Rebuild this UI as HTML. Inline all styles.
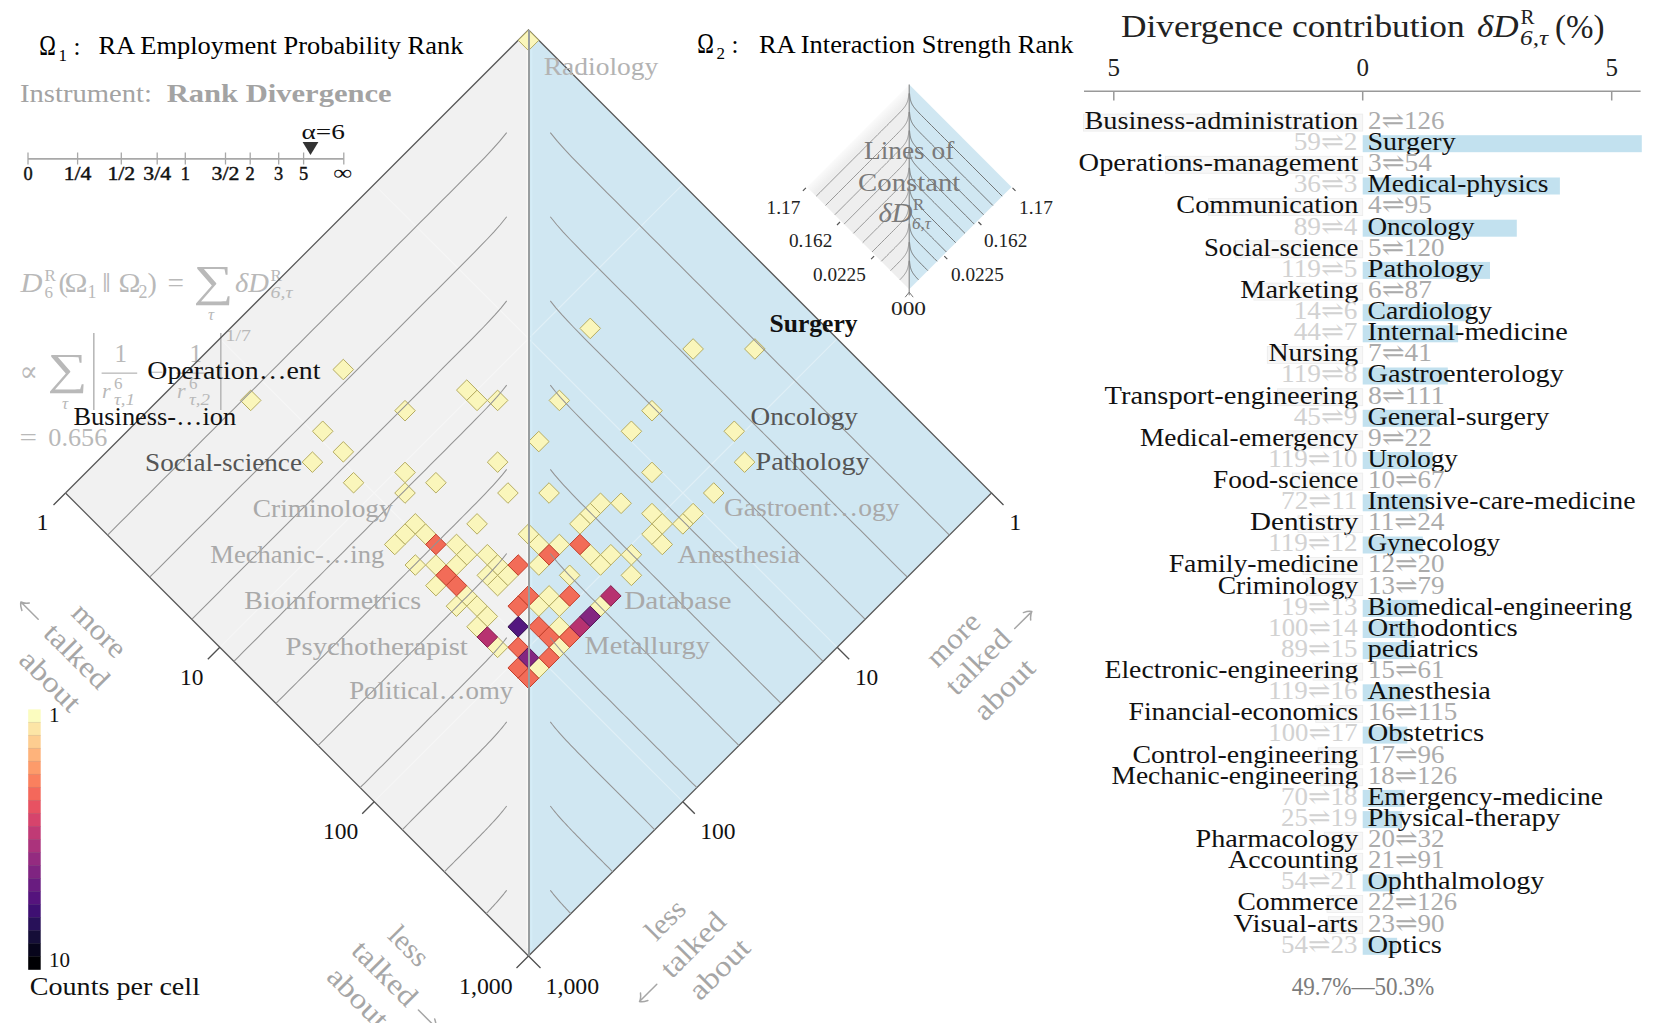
<!DOCTYPE html>
<html><head><meta charset="utf-8"><title>Allotaxonograph</title>
<style>html,body{margin:0;padding:0;background:#fff;overflow:hidden}svg{display:block}</style>
</head><body>
<svg width="1657" height="1023" viewBox="0 0 1657 1023" font-family='"Liberation Serif","DejaVu Serif",serif'>
<rect width="1657" height="1023" fill="#fff"/>
<polygon points="528.5,30.0 65.5,493.0 528.5,956.0" fill="#f1f1f1"/>
<polygon points="528.5,30.0 991.5,493.0 528.5,956.0" fill="#d0e7f2"/>
<path d="M682.8,184.3 L219.8,647.3 M374.2,184.3 L837.2,647.3 M837.2,338.7 L374.2,801.7 M219.8,338.7 L682.8,801.7" stroke="#ffffff" stroke-opacity="0.35" stroke-width="1.2" fill="none"/>
<g fill="#b9b9b9">
<text x="20.5" y="291.5" font-size="28" fill="#b9b9b9" font-style="italic" textLength="22.0" lengthAdjust="spacingAndGlyphs" >D</text>
<text x="44.5" y="280.5" font-size="17" fill="#b9b9b9" >R</text>
<text x="44.5" y="297.5" font-size="17" fill="#b9b9b9" >6</text>
<text x="58.5" y="291.5" font-size="28" fill="#b9b9b9" >(</text>
<text x="64.5" y="291.5" font-size="28" fill="#b9b9b9" textLength="23.0" lengthAdjust="spacingAndGlyphs" >Ω</text>
<text x="87.5" y="297.5" font-size="18" fill="#b9b9b9" >1</text>
<text x="102.0" y="291.5" font-size="28" fill="#b9b9b9" textLength="9.0" lengthAdjust="spacingAndGlyphs" >‖</text>
<text x="118.5" y="291.5" font-size="28" fill="#b9b9b9" textLength="22.0" lengthAdjust="spacingAndGlyphs" >Ω</text>
<text x="138.5" y="297.5" font-size="18" fill="#b9b9b9" >2</text>
<text x="147.5" y="291.5" font-size="28" fill="#b9b9b9" >)</text>
<text x="167.5" y="291.5" font-size="28" fill="#b9b9b9" textLength="16.5" lengthAdjust="spacingAndGlyphs" >=</text>
<text x="193.5" y="296.0" font-size="44" fill="#b9b9b9" textLength="40.0" lengthAdjust="spacingAndGlyphs" >∑</text>
<text x="208.0" y="320.0" font-size="17" fill="#b9b9b9" font-style="italic" >τ</text>
<text x="235.0" y="291.5" font-size="28" fill="#b9b9b9" font-style="italic" textLength="34.0" lengthAdjust="spacingAndGlyphs" >δD</text>
<text x="270.5" y="280.5" font-size="17" fill="#b9b9b9" >R</text>
<text x="270.5" y="297.5" font-size="17" fill="#b9b9b9" font-style="italic" textLength="22.0" lengthAdjust="spacingAndGlyphs" >6,τ</text>
<text x="19.5" y="381.0" font-size="28" fill="#b9b9b9" textLength="18.5" lengthAdjust="spacingAndGlyphs" >∝</text>
<text x="47.5" y="384.0" font-size="44" fill="#b9b9b9" textLength="40.0" lengthAdjust="spacingAndGlyphs" >∑</text>
<text x="62.0" y="409.0" font-size="17" fill="#b9b9b9" font-style="italic" >τ</text>
<rect x="93" y="333" width="1.6" height="77" fill="#b9b9b9"/>
<text x="114.5" y="362.0" font-size="25" fill="#b9b9b9" >1</text>
<rect x="101.6" y="372.5" width="35.6" height="1.3" fill="#b9b9b9"/>
<text x="102.0" y="397.5" font-size="22" fill="#b9b9b9" font-style="italic" >r</text>
<text x="114.0" y="388.5" font-size="17" fill="#b9b9b9" >6</text>
<text x="114.0" y="404.5" font-size="16" fill="#b9b9b9" font-style="italic" textLength="21.0" lengthAdjust="spacingAndGlyphs" >τ,1</text>
<text x="150.0" y="380.0" font-size="24" fill="#b9b9b9" >−</text>
<text x="189.5" y="362.0" font-size="25" fill="#b9b9b9" >1</text>
<rect x="176.6" y="372.5" width="35" height="1.3" fill="#b9b9b9"/>
<text x="177.0" y="397.5" font-size="22" fill="#b9b9b9" font-style="italic" >r</text>
<text x="189.0" y="388.5" font-size="17" fill="#b9b9b9" >6</text>
<text x="189.0" y="404.5" font-size="16" fill="#b9b9b9" font-style="italic" textLength="21.0" lengthAdjust="spacingAndGlyphs" >τ,2</text>
<rect x="220" y="333" width="1.6" height="77" fill="#b9b9b9"/>
<text x="225.5" y="340.5" font-size="17" fill="#b9b9b9" textLength="25.5" lengthAdjust="spacingAndGlyphs" >1/7</text>
<text x="19.5" y="446.0" font-size="26" fill="#b9b9b9" textLength="17.5" lengthAdjust="spacingAndGlyphs" >=</text>
<text x="48.3" y="446.0" font-size="26" fill="#b9b9b9" textLength="59.0" lengthAdjust="spacingAndGlyphs" >0.656</text>
</g>
<line x1="527.3" y1="38.0" x2="527.3" y2="948.0" stroke="#fbfaf7" stroke-width="1.6" stroke-opacity="0.8"/>
<line x1="531.5" y1="38.0" x2="531.5" y2="948.0" stroke="#d6edf7" stroke-width="1.8" stroke-opacity="0.8"/>
<polyline points="65.5,493.0 528.5,30.0 991.5,493.0 528.5,956.0 65.5,493.0" fill="none" stroke="#595959" stroke-width="1.25"/>
<polygon points="528.50,30.00 538.79,40.29 528.50,50.58 518.21,40.29" fill="#faf6bb" stroke="#b5ac62" stroke-width="1.0"/>
<polygon points="343.30,359.25 353.59,369.54 343.30,379.83 333.01,369.54" fill="#faf6bb" stroke="#b5ac62" stroke-width="1.0"/>
<polygon points="250.70,390.12 260.99,400.40 250.70,410.69 240.41,400.40" fill="#faf6bb" stroke="#b5ac62" stroke-width="1.0"/>
<polygon points="466.77,379.83 477.06,390.12 466.77,400.40 456.48,390.12" fill="#faf6bb" stroke="#b5ac62" stroke-width="1.0"/>
<polygon points="477.06,390.12 487.34,400.40 477.06,410.69 466.77,400.40" fill="#faf6bb" stroke="#b5ac62" stroke-width="1.0"/>
<polygon points="497.63,390.12 507.92,400.40 497.63,410.69 487.34,400.40" fill="#faf6bb" stroke="#b5ac62" stroke-width="1.0"/>
<polygon points="405.03,400.40 415.32,410.69 405.03,420.98 394.74,410.69" fill="#faf6bb" stroke="#b5ac62" stroke-width="1.0"/>
<polygon points="322.72,420.98 333.01,431.27 322.72,441.56 312.43,431.27" fill="#faf6bb" stroke="#b5ac62" stroke-width="1.0"/>
<polygon points="343.30,441.56 353.59,451.85 343.30,462.14 333.01,451.85" fill="#faf6bb" stroke="#b5ac62" stroke-width="1.0"/>
<polygon points="312.43,451.85 322.72,462.14 312.43,472.43 302.14,462.14" fill="#faf6bb" stroke="#b5ac62" stroke-width="1.0"/>
<polygon points="497.63,451.85 507.92,462.14 497.63,472.43 487.34,462.14" fill="#faf6bb" stroke="#b5ac62" stroke-width="1.0"/>
<polygon points="405.03,462.14 415.32,472.43 405.03,482.72 394.74,472.43" fill="#faf6bb" stroke="#b5ac62" stroke-width="1.0"/>
<polygon points="353.59,472.43 363.88,482.72 353.59,493.00 343.30,482.72" fill="#faf6bb" stroke="#b5ac62" stroke-width="1.0"/>
<polygon points="435.90,472.43 446.19,482.72 435.90,493.00 425.61,482.72" fill="#faf6bb" stroke="#b5ac62" stroke-width="1.0"/>
<polygon points="405.03,482.72 415.32,493.00 405.03,503.29 394.74,493.00" fill="#faf6bb" stroke="#b5ac62" stroke-width="1.0"/>
<polygon points="507.92,482.72 518.21,493.00 507.92,503.29 497.63,493.00" fill="#faf6bb" stroke="#b5ac62" stroke-width="1.0"/>
<polygon points="590.23,318.09 600.52,328.38 590.23,338.67 579.95,328.38" fill="#faf6bb" stroke="#b5ac62" stroke-width="1.0"/>
<polygon points="693.12,338.67 703.41,348.96 693.12,359.25 682.84,348.96" fill="#faf6bb" stroke="#b5ac62" stroke-width="1.0"/>
<polygon points="754.86,338.67 765.15,348.96 754.86,359.25 744.57,348.96" fill="#faf6bb" stroke="#b5ac62" stroke-width="1.0"/>
<polygon points="559.37,390.12 569.66,400.40 559.37,410.69 549.08,400.40" fill="#faf6bb" stroke="#b5ac62" stroke-width="1.0"/>
<polygon points="651.97,400.40 662.26,410.69 651.97,420.98 641.68,410.69" fill="#faf6bb" stroke="#b5ac62" stroke-width="1.0"/>
<polygon points="631.39,420.98 641.68,431.27 631.39,441.56 621.10,431.27" fill="#faf6bb" stroke="#b5ac62" stroke-width="1.0"/>
<polygon points="734.28,420.98 744.57,431.27 734.28,441.56 723.99,431.27" fill="#faf6bb" stroke="#b5ac62" stroke-width="1.0"/>
<polygon points="538.79,431.27 549.08,441.56 538.79,451.85 528.50,441.56" fill="#faf6bb" stroke="#b5ac62" stroke-width="1.0"/>
<polygon points="744.57,451.85 754.86,462.14 744.57,472.43 734.28,462.14" fill="#faf6bb" stroke="#b5ac62" stroke-width="1.0"/>
<polygon points="651.97,462.14 662.26,472.43 651.97,482.72 641.68,472.43" fill="#faf6bb" stroke="#b5ac62" stroke-width="1.0"/>
<polygon points="549.08,482.72 559.37,493.00 549.08,503.29 538.79,493.00" fill="#faf6bb" stroke="#b5ac62" stroke-width="1.0"/>
<polygon points="713.70,482.72 723.99,493.00 713.70,503.29 703.41,493.00" fill="#faf6bb" stroke="#b5ac62" stroke-width="1.0"/>
<polygon points="600.52,493.00 610.81,503.29 600.52,513.58 590.23,503.29" fill="#faf6bb" stroke="#b5ac62" stroke-width="1.0"/>
<polygon points="621.10,493.00 631.39,503.29 621.10,513.58 610.81,503.29" fill="#faf6bb" stroke="#b5ac62" stroke-width="1.0"/>
<polygon points="590.23,503.29 600.52,513.58 590.23,523.87 579.95,513.58" fill="#faf6bb" stroke="#b5ac62" stroke-width="1.0"/>
<polygon points="579.95,513.58 590.23,523.87 579.95,534.16 569.66,523.87" fill="#faf6bb" stroke="#b5ac62" stroke-width="1.0"/>
<polygon points="651.97,503.29 662.26,513.58 651.97,523.87 641.68,513.58" fill="#faf6bb" stroke="#b5ac62" stroke-width="1.0"/>
<polygon points="662.26,513.58 672.55,523.87 662.26,534.16 651.97,523.87" fill="#faf6bb" stroke="#b5ac62" stroke-width="1.0"/>
<polygon points="693.12,503.29 703.41,513.58 693.12,523.87 682.84,513.58" fill="#faf6bb" stroke="#b5ac62" stroke-width="1.0"/>
<polygon points="682.84,513.58 693.12,523.87 682.84,534.16 672.55,523.87" fill="#faf6bb" stroke="#b5ac62" stroke-width="1.0"/>
<polygon points="651.97,523.87 662.26,534.16 651.97,544.45 641.68,534.16" fill="#faf6bb" stroke="#b5ac62" stroke-width="1.0"/>
<polygon points="662.26,534.16 672.55,544.45 662.26,554.74 651.97,544.45" fill="#faf6bb" stroke="#b5ac62" stroke-width="1.0"/>
<polygon points="528.50,523.87 538.79,534.16 528.50,544.45 518.21,534.16" fill="#faf6bb" stroke="#b5ac62" stroke-width="1.0"/>
<polygon points="538.79,534.16 549.08,544.45 538.79,554.74 528.50,544.45" fill="#faf6bb" stroke="#b5ac62" stroke-width="1.0"/>
<polygon points="559.37,534.16 569.66,544.45 559.37,554.74 549.08,544.45" fill="#faf6bb" stroke="#b5ac62" stroke-width="1.0"/>
<polygon points="538.79,554.74 549.08,565.03 538.79,575.32 528.50,565.03" fill="#faf6bb" stroke="#b5ac62" stroke-width="1.0"/>
<polygon points="590.23,544.45 600.52,554.74 590.23,565.03 579.95,554.74" fill="#faf6bb" stroke="#b5ac62" stroke-width="1.0"/>
<polygon points="610.81,544.45 621.10,554.74 610.81,565.03 600.52,554.74" fill="#faf6bb" stroke="#b5ac62" stroke-width="1.0"/>
<polygon points="631.39,544.45 641.68,554.74 631.39,565.03 621.10,554.74" fill="#faf6bb" stroke="#b5ac62" stroke-width="1.0"/>
<polygon points="600.52,554.74 610.81,565.03 600.52,575.32 590.23,565.03" fill="#faf6bb" stroke="#b5ac62" stroke-width="1.0"/>
<polygon points="631.39,565.03 641.68,575.32 631.39,585.61 621.10,575.32" fill="#faf6bb" stroke="#b5ac62" stroke-width="1.0"/>
<polygon points="569.66,565.03 579.94,575.32 569.66,585.61 559.37,575.32" fill="#faf6bb" stroke="#b5ac62" stroke-width="1.0"/>
<polygon points="415.32,513.58 425.61,523.87 415.32,534.16 405.03,523.87" fill="#faf6bb" stroke="#b5ac62" stroke-width="1.0"/>
<polygon points="405.03,523.87 415.32,534.16 405.03,544.45 394.74,534.16" fill="#faf6bb" stroke="#b5ac62" stroke-width="1.0"/>
<polygon points="425.61,523.87 435.90,534.16 425.61,544.45 415.32,534.16" fill="#faf6bb" stroke="#b5ac62" stroke-width="1.0"/>
<polygon points="394.74,534.16 405.03,544.45 394.74,554.74 384.45,544.45" fill="#faf6bb" stroke="#b5ac62" stroke-width="1.0"/>
<polygon points="477.06,513.58 487.34,523.87 477.06,534.16 466.77,523.87" fill="#faf6bb" stroke="#b5ac62" stroke-width="1.0"/>
<polygon points="456.48,534.16 466.77,544.45 456.48,554.74 446.19,544.45" fill="#faf6bb" stroke="#b5ac62" stroke-width="1.0"/>
<polygon points="466.77,544.45 477.06,554.74 466.77,565.03 456.48,554.74" fill="#faf6bb" stroke="#b5ac62" stroke-width="1.0"/>
<polygon points="487.34,544.45 497.63,554.74 487.34,565.03 477.06,554.74" fill="#faf6bb" stroke="#b5ac62" stroke-width="1.0"/>
<polygon points="415.32,554.74 425.61,565.03 415.32,575.32 405.03,565.03" fill="#faf6bb" stroke="#b5ac62" stroke-width="1.0"/>
<polygon points="435.90,554.74 446.19,565.03 435.90,575.32 425.61,565.03" fill="#faf6bb" stroke="#b5ac62" stroke-width="1.0"/>
<polygon points="456.48,554.74 466.77,565.03 456.48,575.32 446.19,565.03" fill="#faf6bb" stroke="#b5ac62" stroke-width="1.0"/>
<polygon points="435.90,575.32 446.19,585.61 435.90,595.89 425.61,585.61" fill="#faf6bb" stroke="#b5ac62" stroke-width="1.0"/>
<polygon points="497.63,554.74 507.92,565.03 497.63,575.32 487.34,565.03" fill="#faf6bb" stroke="#b5ac62" stroke-width="1.0"/>
<polygon points="487.34,565.03 497.63,575.32 487.34,585.61 477.06,575.32" fill="#faf6bb" stroke="#b5ac62" stroke-width="1.0"/>
<polygon points="497.63,575.32 507.92,585.61 497.63,595.89 487.34,585.61" fill="#faf6bb" stroke="#b5ac62" stroke-width="1.0"/>
<polygon points="507.92,565.03 518.21,575.32 507.92,585.61 497.63,575.32" fill="#faf6bb" stroke="#b5ac62" stroke-width="1.0"/>
<polygon points="466.77,585.61 477.06,595.89 466.77,606.18 456.48,595.89" fill="#faf6bb" stroke="#b5ac62" stroke-width="1.0"/>
<polygon points="549.08,585.61 559.37,595.89 549.08,606.18 538.79,595.89" fill="#faf6bb" stroke="#b5ac62" stroke-width="1.0"/>
<polygon points="538.79,595.89 549.08,606.18 538.79,616.47 528.50,606.18" fill="#faf6bb" stroke="#b5ac62" stroke-width="1.0"/>
<polygon points="559.37,595.89 569.66,606.18 559.37,616.47 549.08,606.18" fill="#faf6bb" stroke="#b5ac62" stroke-width="1.0"/>
<polygon points="600.52,595.89 610.81,606.18 600.52,616.47 590.23,606.18" fill="#faf6bb" stroke="#b5ac62" stroke-width="1.0"/>
<polygon points="559.37,616.47 569.66,626.76 559.37,637.05 549.08,626.76" fill="#faf6bb" stroke="#b5ac62" stroke-width="1.0"/>
<polygon points="559.37,637.05 569.66,647.34 559.37,657.63 549.08,647.34" fill="#faf6bb" stroke="#b5ac62" stroke-width="1.0"/>
<polygon points="538.79,657.63 549.08,667.92 538.79,678.21 528.50,667.92" fill="#faf6bb" stroke="#b5ac62" stroke-width="1.0"/>
<polygon points="456.48,595.89 466.77,606.18 456.48,616.47 446.19,606.18" fill="#faf6bb" stroke="#b5ac62" stroke-width="1.0"/>
<polygon points="477.06,595.89 487.34,606.18 477.06,616.47 466.77,606.18" fill="#faf6bb" stroke="#b5ac62" stroke-width="1.0"/>
<polygon points="487.34,606.18 497.63,616.47 487.34,626.76 477.06,616.47" fill="#faf6bb" stroke="#b5ac62" stroke-width="1.0"/>
<polygon points="477.06,616.47 487.34,626.76 477.06,637.05 466.77,626.76" fill="#faf6bb" stroke="#b5ac62" stroke-width="1.0"/>
<polygon points="497.63,637.05 507.92,647.34 497.63,657.63 487.34,647.34" fill="#faf6bb" stroke="#b5ac62" stroke-width="1.0"/>
<polygon points="579.95,534.16 590.23,544.45 579.95,554.74 569.66,544.45" fill="#f26c58" stroke="#c23e2a" stroke-width="1.0"/>
<polygon points="549.08,544.45 559.37,554.74 549.08,565.03 538.79,554.74" fill="#f26c58" stroke="#c23e2a" stroke-width="1.0"/>
<polygon points="435.90,534.16 446.19,544.45 435.90,554.74 425.61,544.45" fill="#f26c58" stroke="#c23e2a" stroke-width="1.0"/>
<polygon points="446.19,565.03 456.48,575.32 446.19,585.61 435.90,575.32" fill="#f26c58" stroke="#c23e2a" stroke-width="1.0"/>
<polygon points="456.48,575.32 466.77,585.61 456.48,595.89 446.19,585.61" fill="#f26c58" stroke="#c23e2a" stroke-width="1.0"/>
<polygon points="518.21,554.74 528.50,565.03 518.21,575.32 507.92,565.03" fill="#f26c58" stroke="#c23e2a" stroke-width="1.0"/>
<polygon points="528.50,585.61 538.79,595.89 528.50,606.18 518.21,595.89" fill="#f26c58" stroke="#c23e2a" stroke-width="1.0"/>
<polygon points="518.21,595.89 528.50,606.18 518.21,616.47 507.92,606.18" fill="#f26c58" stroke="#c23e2a" stroke-width="1.0"/>
<polygon points="569.66,585.61 579.94,595.89 569.66,606.18 559.37,595.89" fill="#f26c58" stroke="#c23e2a" stroke-width="1.0"/>
<polygon points="569.66,626.76 579.94,637.05 569.66,647.34 559.37,637.05" fill="#f26c58" stroke="#c23e2a" stroke-width="1.0"/>
<polygon points="538.79,616.47 549.08,626.76 538.79,637.05 528.50,626.76" fill="#f26c58" stroke="#c23e2a" stroke-width="1.0"/>
<polygon points="549.08,626.76 559.37,637.05 549.08,647.34 538.79,637.05" fill="#f26c58" stroke="#c23e2a" stroke-width="1.0"/>
<polygon points="549.08,647.34 559.37,657.63 549.08,667.92 538.79,657.63" fill="#f26c58" stroke="#c23e2a" stroke-width="1.0"/>
<polygon points="518.21,637.05 528.50,647.34 518.21,657.63 507.92,647.34" fill="#f26c58" stroke="#c23e2a" stroke-width="1.0"/>
<polygon points="518.21,657.63 528.50,667.92 518.21,678.21 507.92,667.92" fill="#f26c58" stroke="#c23e2a" stroke-width="1.0"/>
<polygon points="528.50,667.92 538.79,678.21 528.50,688.50 518.21,678.21" fill="#f26c58" stroke="#c23e2a" stroke-width="1.0"/>
<polygon points="610.81,585.61 621.10,595.89 610.81,606.18 600.52,595.89" fill="#b73270" stroke="#85204f" stroke-width="1.0"/>
<polygon points="579.95,616.47 590.23,626.76 579.95,637.05 569.66,626.76" fill="#b73270" stroke="#85204f" stroke-width="1.0"/>
<polygon points="487.34,626.76 497.63,637.05 487.34,647.34 477.06,637.05" fill="#b73270" stroke="#85204f" stroke-width="1.0"/>
<polygon points="590.23,606.18 600.52,616.47 590.23,626.76 579.95,616.47" fill="#832681" stroke="#521457" stroke-width="1.0"/>
<polygon points="528.50,647.34 538.79,657.63 528.50,667.92 518.21,657.63" fill="#832681" stroke="#521457" stroke-width="1.0"/>
<polygon points="518.21,616.47 528.50,626.76 518.21,637.05 507.92,626.76" fill="#53177f" stroke="#2a0845" stroke-width="1.0"/>
<path d="M506.69,132.57 L499.53,141.42 L492.36,149.42 L485.19,157.02 L478.03,164.41 L470.86,171.69 L463.70,178.92 L456.53,186.12 L449.36,193.30 L442.20,200.47 L435.03,207.65 L427.87,214.81 L420.70,221.98 L413.53,229.15 L406.37,236.31 L399.20,243.48 L392.03,250.65 L384.87,257.81 L377.70,264.98 L370.54,272.15 L363.37,279.31 L356.20,286.48 L349.04,293.64 L341.87,300.81 L334.71,307.98 L327.54,315.14 L320.37,322.31 L313.21,329.47 L306.04,336.64 L298.87,343.81 L291.71,350.97 L284.54,358.14 L277.38,365.31 L270.21,372.47 L263.04,379.64 L255.88,386.80 L248.71,393.97 L241.55,401.14 L234.38,408.30 L227.21,415.47 L220.05,422.63 L212.88,429.80 L205.71,436.97 L198.55,444.13 L191.38,451.30 L184.22,458.47 L177.05,465.63 L169.88,472.80 L162.72,479.96 L155.55,487.13 L148.39,494.30 L141.22,501.46 L134.05,508.63 L126.89,515.79 L119.72,522.96 L112.55,530.13 L107.59,535.09 M550.31,132.57 L557.47,141.42 L564.64,149.42 L571.81,157.02 L578.97,164.41 L586.14,171.69 L593.30,178.92 L600.47,186.12 L607.64,193.30 L614.80,200.47 L621.97,207.65 L629.13,214.81 L636.30,221.98 L643.47,229.15 L650.63,236.31 L657.80,243.48 L664.97,250.65 L672.13,257.81 L679.30,264.98 L686.46,272.15 L693.63,279.31 L700.80,286.48 L707.96,293.64 L715.13,300.81 L722.29,307.98 L729.46,315.14 L736.63,322.31 L743.79,329.47 L750.96,336.64 L758.13,343.81 L765.29,350.97 L772.46,358.14 L779.62,365.31 L786.79,372.47 L793.96,379.64 L801.12,386.80 L808.29,393.97 L815.45,401.14 L822.62,408.30 L829.79,415.47 L836.95,422.63 L844.12,429.80 L851.29,436.97 L858.45,444.13 L865.62,451.30 L872.78,458.47 L879.95,465.63 L887.12,472.80 L894.28,479.96 L901.45,487.13 L908.61,494.30 L915.78,501.46 L922.95,508.63 L930.11,515.79 L937.28,522.96 L944.45,530.13 L949.41,535.09 M506.69,216.75 L500.23,224.78 L493.76,232.08 L487.30,239.00 L480.83,245.71 L474.37,252.32 L467.90,258.86 L461.44,265.37 L454.98,271.86 L448.51,278.34 L442.05,284.81 L435.58,291.28 L429.12,297.74 L422.65,304.21 L416.19,310.67 L409.72,317.14 L403.26,323.60 L396.79,330.07 L390.33,336.53 L383.86,343.00 L377.40,349.46 L370.94,355.93 L364.47,362.39 L358.01,368.86 L351.54,375.32 L345.08,381.79 L338.61,388.25 L332.15,394.72 L325.68,401.18 L319.22,407.65 L312.75,414.11 L306.29,420.57 L299.82,427.04 L293.36,433.50 L286.90,439.97 L280.43,446.43 L273.97,452.90 L267.50,459.36 L261.04,465.83 L254.57,472.29 L248.11,478.76 L241.64,485.22 L235.18,491.69 L228.71,498.15 L222.25,504.61 L215.78,511.08 L209.32,517.54 L202.86,524.01 L196.39,530.47 L189.93,536.94 L183.46,543.40 L177.00,549.87 L170.53,556.33 L164.07,562.80 L157.60,569.26 L151.14,575.73 L149.68,577.18 M550.31,216.75 L556.77,224.78 L563.24,232.08 L569.70,239.00 L576.17,245.71 L582.63,252.32 L589.10,258.86 L595.56,265.37 L602.02,271.86 L608.49,278.34 L614.95,284.81 L621.42,291.28 L627.88,297.74 L634.35,304.21 L640.81,310.67 L647.28,317.14 L653.74,323.60 L660.21,330.07 L666.67,336.53 L673.14,343.00 L679.60,349.46 L686.06,355.93 L692.53,362.39 L698.99,368.86 L705.46,375.32 L711.92,381.79 L718.39,388.25 L724.85,394.72 L731.32,401.18 L737.78,407.65 L744.25,414.11 L750.71,420.57 L757.18,427.04 L763.64,433.50 L770.10,439.97 L776.57,446.43 L783.03,452.90 L789.50,459.36 L795.96,465.83 L802.43,472.29 L808.89,478.76 L815.36,485.22 L821.82,491.69 L828.29,498.15 L834.75,504.61 L841.22,511.08 L847.68,517.54 L854.14,524.01 L860.61,530.47 L867.07,536.94 L873.54,543.40 L880.00,549.87 L886.47,556.33 L892.93,562.80 L899.40,569.26 L905.86,575.73 L907.32,577.18 M506.69,300.93 L500.93,308.14 L495.17,314.72 L489.40,320.96 L483.64,327.00 L477.88,332.93 L472.11,338.79 L466.35,344.61 L460.59,350.41 L454.82,356.19 L449.06,361.97 L443.30,367.74 L437.54,373.50 L431.77,379.27 L426.01,385.03 L420.25,390.80 L414.48,396.56 L408.72,402.33 L402.96,408.09 L397.19,413.85 L391.43,419.61 L385.67,425.38 L379.90,431.14 L374.14,436.90 L368.38,442.67 L362.61,448.43 L356.85,454.19 L351.09,459.96 L345.33,465.72 L339.56,471.48 L333.80,477.25 L328.04,483.01 L322.27,488.77 L316.51,494.54 L310.75,500.30 L304.98,506.06 L299.22,511.82 L293.46,517.59 L287.69,523.35 L281.93,529.11 L276.17,534.88 L270.41,540.64 L264.64,546.40 L258.88,552.17 L253.12,557.93 L247.35,563.69 L241.59,569.46 L235.83,575.22 L230.06,580.98 L224.30,586.75 L218.54,592.51 L212.77,598.27 L207.01,604.03 L201.25,609.80 L195.48,615.56 L191.77,619.27 M550.31,300.93 L556.07,308.14 L561.83,314.72 L567.60,320.96 L573.36,327.00 L579.12,332.93 L584.89,338.79 L590.65,344.61 L596.41,350.41 L602.18,356.19 L607.94,361.97 L613.70,367.74 L619.46,373.50 L625.23,379.27 L630.99,385.03 L636.75,390.80 L642.52,396.56 L648.28,402.33 L654.04,408.09 L659.81,413.85 L665.57,419.61 L671.33,425.38 L677.10,431.14 L682.86,436.90 L688.62,442.67 L694.39,448.43 L700.15,454.19 L705.91,459.96 L711.67,465.72 L717.44,471.48 L723.20,477.25 L728.96,483.01 L734.73,488.77 L740.49,494.54 L746.25,500.30 L752.02,506.06 L757.78,511.82 L763.54,517.59 L769.31,523.35 L775.07,529.11 L780.83,534.88 L786.59,540.64 L792.36,546.40 L798.12,552.17 L803.88,557.93 L809.65,563.69 L815.41,569.46 L821.17,575.22 L826.94,580.98 L832.70,586.75 L838.46,592.51 L844.23,598.27 L849.99,604.03 L855.75,609.80 L861.52,615.56 L865.23,619.27 M506.69,385.11 L501.63,391.48 L496.57,397.34 L491.51,402.89 L486.45,408.26 L481.38,413.51 L476.32,418.69 L471.26,423.83 L466.20,428.94 L461.14,434.04 L456.08,439.12 L451.02,444.19 L445.95,449.26 L440.89,454.33 L435.83,459.39 L430.77,464.45 L425.71,469.52 L420.65,474.58 L415.58,479.64 L410.52,484.70 L405.46,489.77 L400.40,494.83 L395.34,499.89 L390.28,504.95 L385.21,510.01 L380.15,515.07 L375.09,520.14 L370.03,525.20 L364.97,530.26 L359.91,535.32 L354.84,540.38 L349.78,545.44 L344.72,550.51 L339.66,555.57 L334.60,560.63 L329.54,565.69 L324.48,570.75 L319.41,575.81 L314.35,580.88 L309.29,585.94 L304.23,591.00 L299.17,596.06 L294.11,601.12 L289.04,606.18 L283.98,611.24 L278.92,616.31 L273.86,621.37 L268.80,626.43 L263.74,631.49 L258.67,636.55 L253.61,641.61 L248.55,646.68 L243.49,651.74 L238.43,656.80 L233.86,661.36 M550.31,385.11 L555.37,391.48 L560.43,397.34 L565.49,402.89 L570.55,408.26 L575.62,413.51 L580.68,418.69 L585.74,423.83 L590.80,428.94 L595.86,434.04 L600.92,439.12 L605.98,444.19 L611.05,449.26 L616.11,454.33 L621.17,459.39 L626.23,464.45 L631.29,469.52 L636.35,474.58 L641.42,479.64 L646.48,484.70 L651.54,489.77 L656.60,494.83 L661.66,499.89 L666.72,504.95 L671.79,510.01 L676.85,515.07 L681.91,520.14 L686.97,525.20 L692.03,530.26 L697.09,535.32 L702.16,540.38 L707.22,545.44 L712.28,550.51 L717.34,555.57 L722.40,560.63 L727.46,565.69 L732.52,570.75 L737.59,575.81 L742.65,580.88 L747.71,585.94 L752.77,591.00 L757.83,596.06 L762.89,601.12 L767.96,606.18 L773.02,611.24 L778.08,616.31 L783.14,621.37 L788.20,626.43 L793.26,631.49 L798.33,636.55 L803.39,641.61 L808.45,646.68 L813.51,651.74 L818.57,656.80 L823.14,661.36 M506.69,469.30 L502.33,474.82 L497.97,479.93 L493.61,484.79 L489.25,489.48 L484.89,494.06 L480.53,498.57 L476.17,503.03 L471.81,507.46 L467.45,511.86 L463.09,516.25 L458.73,520.63 L454.37,525.01 L450.01,529.38 L445.65,533.74 L441.29,538.11 L436.93,542.47 L432.57,546.83 L428.21,551.20 L423.85,555.56 L419.49,559.92 L415.13,564.28 L410.77,568.64 L406.41,573.00 L402.05,577.36 L397.69,581.72 L393.33,586.08 L388.97,590.44 L384.61,594.80 L380.25,599.16 L375.89,603.52 L371.53,607.88 L367.17,612.24 L362.81,616.60 L358.45,620.96 L354.09,625.32 L349.73,629.68 L345.37,634.04 L341.01,638.40 L336.65,642.76 L332.29,647.12 L327.93,651.48 L323.57,655.84 L319.21,660.20 L314.85,664.56 L310.49,668.92 L306.13,673.28 L301.77,677.64 L297.41,682.00 L293.05,686.36 L288.69,690.72 L284.33,695.08 L279.97,699.44 L275.95,703.45 M550.31,469.30 L554.67,474.82 L559.03,479.93 L563.39,484.79 L567.75,489.48 L572.11,494.06 L576.47,498.57 L580.83,503.03 L585.19,507.46 L589.55,511.86 L593.91,516.25 L598.27,520.63 L602.63,525.01 L606.99,529.38 L611.35,533.74 L615.71,538.11 L620.07,542.47 L624.43,546.83 L628.79,551.20 L633.15,555.56 L637.51,559.92 L641.87,564.28 L646.23,568.64 L650.59,573.00 L654.95,577.36 L659.31,581.72 L663.67,586.08 L668.03,590.44 L672.39,594.80 L676.75,599.16 L681.11,603.52 L685.47,607.88 L689.83,612.24 L694.19,616.60 L698.55,620.96 L702.91,625.32 L707.27,629.68 L711.63,634.04 L715.99,638.40 L720.35,642.76 L724.71,647.12 L729.07,651.48 L733.43,655.84 L737.79,660.20 L742.15,664.56 L746.51,668.92 L750.87,673.28 L755.23,677.64 L759.59,682.00 L763.95,686.36 L768.31,690.72 L772.67,695.08 L777.03,699.44 L781.05,703.45 M506.69,553.48 L503.03,558.15 L499.38,562.50 L495.72,566.65 L492.06,570.66 L488.40,574.57 L484.74,578.40 L481.08,582.19 L477.42,585.93 L473.77,589.66 L470.11,593.36 L466.45,597.06 L462.79,600.74 L459.13,604.41 L455.47,608.09 L451.81,611.75 L448.16,615.42 L444.50,619.08 L440.84,622.74 L437.18,626.40 L433.52,630.06 L429.86,633.72 L426.20,637.38 L422.55,641.04 L418.89,644.70 L415.23,648.36 L411.57,652.02 L407.91,655.68 L404.25,659.34 L400.59,663.00 L396.94,666.65 L393.28,670.31 L389.62,673.97 L385.96,677.63 L382.30,681.29 L378.64,684.95 L374.98,688.61 L371.33,692.27 L367.67,695.92 L364.01,699.58 L360.35,703.24 L356.69,706.90 L353.03,710.56 L349.37,714.22 L345.72,717.88 L342.06,721.53 L338.40,725.19 L334.74,728.85 L331.08,732.51 L327.42,736.17 L323.76,739.83 L320.11,743.49 L318.05,745.55 M550.31,553.48 L553.97,558.15 L557.62,562.50 L561.28,566.65 L564.94,570.66 L568.60,574.57 L572.26,578.40 L575.92,582.19 L579.58,585.93 L583.23,589.66 L586.89,593.36 L590.55,597.06 L594.21,600.74 L597.87,604.41 L601.53,608.09 L605.19,611.75 L608.84,615.42 L612.50,619.08 L616.16,622.74 L619.82,626.40 L623.48,630.06 L627.14,633.72 L630.80,637.38 L634.45,641.04 L638.11,644.70 L641.77,648.36 L645.43,652.02 L649.09,655.68 L652.75,659.34 L656.41,663.00 L660.06,666.65 L663.72,670.31 L667.38,673.97 L671.04,677.63 L674.70,681.29 L678.36,684.95 L682.02,688.61 L685.67,692.27 L689.33,695.92 L692.99,699.58 L696.65,703.24 L700.31,706.90 L703.97,710.56 L707.63,714.22 L711.28,717.88 L714.94,721.53 L718.60,725.19 L722.26,728.85 L725.92,732.51 L729.58,736.17 L733.24,739.83 L736.89,743.49 L738.95,745.55 M506.69,637.66 L503.74,641.46 L500.78,645.04 L497.82,648.47 L494.86,651.78 L491.91,655.00 L488.95,658.16 L485.99,661.28 L483.04,664.35 L480.08,667.40 L477.12,670.42 L474.17,673.43 L471.21,676.43 L468.25,679.42 L465.29,682.40 L462.34,685.38 L459.38,688.35 L456.42,691.31 L453.47,694.28 L450.51,697.24 L447.55,700.21 L444.59,703.17 L441.64,706.13 L438.68,709.08 L435.72,712.04 L432.77,715.00 L429.81,717.96 L426.85,720.92 L423.90,723.88 L420.94,726.83 L417.98,729.79 L415.02,732.75 L412.07,735.70 L409.11,738.66 L406.15,741.62 L403.20,744.58 L400.24,747.53 L397.28,750.49 L394.32,753.45 L391.37,756.40 L388.41,759.36 L385.45,762.32 L382.50,765.28 L379.54,768.23 L376.58,771.19 L373.63,774.15 L370.67,777.10 L367.71,780.06 L364.75,783.02 L361.80,785.98 L360.14,787.64 M550.31,637.66 L553.26,641.46 L556.22,645.04 L559.18,648.47 L562.14,651.78 L565.09,655.00 L568.05,658.16 L571.01,661.28 L573.96,664.35 L576.92,667.40 L579.88,670.42 L582.83,673.43 L585.79,676.43 L588.75,679.42 L591.71,682.40 L594.66,685.38 L597.62,688.35 L600.58,691.31 L603.53,694.28 L606.49,697.24 L609.45,700.21 L612.41,703.17 L615.36,706.13 L618.32,709.08 L621.28,712.04 L624.23,715.00 L627.19,717.96 L630.15,720.92 L633.10,723.88 L636.06,726.83 L639.02,729.79 L641.98,732.75 L644.93,735.70 L647.89,738.66 L650.85,741.62 L653.80,744.58 L656.76,747.53 L659.72,750.49 L662.68,753.45 L665.63,756.40 L668.59,759.36 L671.55,762.32 L674.50,765.28 L677.46,768.23 L680.42,771.19 L683.37,774.15 L686.33,777.10 L689.29,780.06 L692.25,783.02 L695.20,785.98 L696.86,787.64 M506.69,721.84 L504.44,724.76 L502.18,727.55 L499.93,730.23 L497.67,732.82 L495.42,735.35 L493.16,737.83 L490.90,740.27 L488.65,742.67 L486.39,745.04 L484.14,747.39 L481.88,749.73 L479.63,752.05 L477.37,754.35 L475.12,756.65 L472.86,758.94 L470.60,761.22 L468.35,763.50 L466.09,765.78 L463.84,768.05 L461.58,770.32 L459.33,772.58 L457.07,774.85 L454.82,777.11 L452.56,779.37 L450.30,781.63 L448.05,783.89 L445.79,786.15 L443.54,788.41 L441.28,790.66 L439.03,792.92 L436.77,795.18 L434.52,797.43 L432.26,799.69 L430.00,801.95 L427.75,804.20 L425.49,806.46 L423.24,808.71 L420.98,810.97 L418.73,813.23 L416.47,815.48 L414.22,817.74 L411.96,819.99 L409.70,822.25 L407.45,824.50 L405.19,826.76 L402.94,829.02 L402.23,829.73 M550.31,721.84 L552.56,724.76 L554.82,727.55 L557.07,730.23 L559.33,732.82 L561.58,735.35 L563.84,737.83 L566.10,740.27 L568.35,742.67 L570.61,745.04 L572.86,747.39 L575.12,749.73 L577.37,752.05 L579.63,754.35 L581.88,756.65 L584.14,758.94 L586.40,761.22 L588.65,763.50 L590.91,765.78 L593.16,768.05 L595.42,770.32 L597.67,772.58 L599.93,774.85 L602.18,777.11 L604.44,779.37 L606.70,781.63 L608.95,783.89 L611.21,786.15 L613.46,788.41 L615.72,790.66 L617.97,792.92 L620.23,795.18 L622.48,797.43 L624.74,799.69 L627.00,801.95 L629.25,804.20 L631.51,806.46 L633.76,808.71 L636.02,810.97 L638.27,813.23 L640.53,815.48 L642.78,817.74 L645.04,819.99 L647.30,822.25 L649.55,824.50 L651.81,826.76 L654.06,829.02 L654.77,829.73 M506.69,806.02 L505.14,808.05 L503.58,810.01 L502.03,811.91 L500.48,813.76 L498.92,815.57 L497.37,817.35 L495.81,819.09 L494.26,820.81 L492.71,822.50 L491.15,824.18 L489.60,825.84 L488.04,827.49 L486.49,829.12 L484.94,830.74 L483.38,832.36 L481.83,833.96 L480.27,835.56 L478.72,837.16 L477.17,838.74 L475.61,840.33 L474.06,841.91 L472.50,843.48 L470.95,845.06 L469.40,846.63 L467.84,848.20 L466.29,849.76 L464.73,851.33 L463.18,852.89 L461.63,854.45 L460.07,856.02 L458.52,857.58 L456.96,859.14 L455.41,860.69 L453.86,862.25 L452.30,863.81 L450.75,865.37 L449.19,866.92 L447.64,868.48 L446.09,870.04 L444.53,871.59 L444.31,871.81 M550.31,806.02 L551.86,808.05 L553.42,810.01 L554.97,811.91 L556.52,813.76 L558.08,815.57 L559.63,817.35 L561.19,819.09 L562.74,820.81 L564.29,822.50 L565.85,824.18 L567.40,825.84 L568.96,827.49 L570.51,829.12 L572.06,830.74 L573.62,832.36 L575.17,833.96 L576.73,835.56 L578.28,837.16 L579.83,838.74 L581.39,840.33 L582.94,841.91 L584.50,843.48 L586.05,845.06 L587.60,846.63 L589.16,848.20 L590.71,849.76 L592.27,851.33 L593.82,852.89 L595.37,854.45 L596.93,856.02 L598.48,857.58 L600.04,859.14 L601.59,860.69 L603.14,862.25 L604.70,863.81 L606.25,865.37 L607.81,866.92 L609.36,868.48 L610.91,870.04 L612.47,871.59 L612.69,871.81 M506.69,890.20 L505.84,891.33 L504.99,892.43 L504.14,893.51 L503.28,894.57 L502.43,895.61 L501.58,896.64 L500.73,897.65 L499.87,898.65 L499.02,899.64 L498.17,900.62 L497.32,901.59 L496.46,902.55 L495.61,903.50 L494.76,904.44 L493.91,905.38 L493.05,906.31 L492.20,907.23 L491.35,908.15 L490.50,909.07 L489.64,909.98 L488.79,910.88 L487.94,911.78 L487.09,912.68 L486.23,913.57 L486.15,913.65 M550.31,890.20 L551.16,891.33 L552.01,892.43 L552.86,893.51 L553.72,894.57 L554.57,895.61 L555.42,896.64 L556.27,897.65 L557.13,898.65 L557.98,899.64 L558.83,900.62 L559.68,901.59 L560.54,902.55 L561.39,903.50 L562.24,904.44 L563.09,905.38 L563.95,906.31 L564.80,907.23 L565.65,908.15 L566.50,909.07 L567.36,909.98 L568.21,910.88 L569.06,911.78 L569.91,912.68 L570.77,913.57 L570.85,913.65" stroke="#939393" stroke-width="1.05" fill="none"/>
<line x1="529.0" y1="30.0" x2="529.0" y2="956.0" stroke="#989d9f" stroke-width="2"/>
<path d="M65.5,493.0 l-12,12 M991.5,493.0 l12,12 M219.8,647.3 l-12,12 M837.2,647.3 l12,12 M374.2,801.7 l-12,12 M682.8,801.7 l12,12 M528.5,956.0 l-12,12 M528.5,956.0 l12,12" stroke="#505050" stroke-width="1.3" fill="none"/>
<text x="42.4" y="529.5" font-size="24" fill="#111" text-anchor="middle" >1</text>
<text x="191.8" y="685.2" font-size="24" fill="#111" text-anchor="middle" textLength="23.4" lengthAdjust="spacingAndGlyphs" >10</text>
<text x="340.7" y="838.9" font-size="24" fill="#111" text-anchor="middle" textLength="35.3" lengthAdjust="spacingAndGlyphs" >100</text>
<text x="485.8" y="993.8" font-size="24" fill="#111" text-anchor="middle" textLength="53.5" lengthAdjust="spacingAndGlyphs" >1,000</text>
<text x="1015.3" y="529.5" font-size="24" fill="#111" text-anchor="middle" >1</text>
<text x="866.6" y="684.6" font-size="24" fill="#111" text-anchor="middle" textLength="23.4" lengthAdjust="spacingAndGlyphs" >10</text>
<text x="717.9" y="838.9" font-size="24" fill="#111" text-anchor="middle" textLength="35.3" lengthAdjust="spacingAndGlyphs" >100</text>
<text x="572.3" y="993.8" font-size="24" fill="#111" text-anchor="middle" textLength="53.5" lengthAdjust="spacingAndGlyphs" >1,000</text>
<text x="147.3" y="379.4" font-size="24.5" fill="#111" textLength="173.2" lengthAdjust="spacingAndGlyphs" >Operation…ent</text>
<text x="73.5" y="424.5" font-size="24.5" fill="#111" textLength="162.7" lengthAdjust="spacingAndGlyphs" >Business-…ion</text>
<text x="145.1" y="471.1" font-size="24.5" fill="#555555" textLength="156.9" lengthAdjust="spacingAndGlyphs" >Social-science</text>
<text x="252.8" y="516.5" font-size="24.5" fill="#a9a9a9" textLength="139.9" lengthAdjust="spacingAndGlyphs" >Criminology</text>
<text x="210.3" y="563.2" font-size="24.5" fill="#a9a9a9" textLength="173.9" lengthAdjust="spacingAndGlyphs" >Mechanic-…ing</text>
<text x="244.3" y="608.6" font-size="24.5" fill="#a9a9a9" textLength="176.8" lengthAdjust="spacingAndGlyphs" >Bioinformetrics</text>
<text x="285.4" y="655.4" font-size="24.5" fill="#a9a9a9" textLength="182.5" lengthAdjust="spacingAndGlyphs" >Psychotherapist</text>
<text x="349.2" y="699.3" font-size="24.5" fill="#a9a9a9" textLength="164.0" lengthAdjust="spacingAndGlyphs" >Political…omy</text>
<text x="543.7" y="74.8" font-size="24.5" fill="#b3b3b3" textLength="114.7" lengthAdjust="spacingAndGlyphs" >Radiology</text>
<text x="769.5" y="332.4" font-size="24.5" fill="#111" font-weight="bold" textLength="88.0" lengthAdjust="spacingAndGlyphs" >Surgery</text>
<text x="750.5" y="424.9" font-size="24.5" fill="#555555" textLength="107.5" lengthAdjust="spacingAndGlyphs" >Oncology</text>
<text x="755.5" y="470.4" font-size="24.5" fill="#555555" textLength="114.0" lengthAdjust="spacingAndGlyphs" >Pathology</text>
<text x="724.0" y="516.3" font-size="24.5" fill="#a9a9a9" textLength="175.5" lengthAdjust="spacingAndGlyphs" >Gastroent…ogy</text>
<text x="677.4" y="562.8" font-size="24.5" fill="#a9a9a9" textLength="122.4" lengthAdjust="spacingAndGlyphs" >Anesthesia</text>
<text x="624.2" y="608.7" font-size="24.5" fill="#a9a9a9" textLength="107.4" lengthAdjust="spacingAndGlyphs" >Database</text>
<text x="584.4" y="654.3" font-size="24.5" fill="#a9a9a9" textLength="125.6" lengthAdjust="spacingAndGlyphs" >Metallurgy</text>
<text x="39.3" y="54.8" font-size="29" fill="#000" textLength="16.6" lengthAdjust="spacingAndGlyphs" >Ω</text>
<text x="58.5" y="60.5" font-size="17" fill="#000" >1</text>
<text x="73.5" y="54.5" font-size="25" fill="#000" >:</text>
<text x="98.4" y="54.2" font-size="25" fill="#000" textLength="365.0" lengthAdjust="spacingAndGlyphs" >RA Employment Probability Rank</text>
<text x="697.3" y="53.2" font-size="29" fill="#000" textLength="16.6" lengthAdjust="spacingAndGlyphs" >Ω</text>
<text x="716.6" y="59.2" font-size="17" fill="#000" >2</text>
<text x="731.5" y="53.0" font-size="25" fill="#000" >:</text>
<text x="759.0" y="52.6" font-size="25" fill="#000" textLength="314.5" lengthAdjust="spacingAndGlyphs" >RA Interaction Strength Rank</text>
<text x="20.0" y="101.6" font-size="26" fill="#a3a3a3" textLength="132.0" lengthAdjust="spacingAndGlyphs" >Instrument:</text>
<text x="166.7" y="101.6" font-size="26" fill="#a3a3a3" font-weight="bold" textLength="225.0" lengthAdjust="spacingAndGlyphs" >Rank Divergence</text>
<line x1="28" y1="158.9" x2="343.8" y2="158.9" stroke="#a8a8a8" stroke-width="1.6"/>
<path d="M28,152.6 L28,164.6 M77.6,152.6 L77.6,164.6 M121.3,152.6 L121.3,164.6 M157.2,152.6 L157.2,164.6 M185.3,152.6 L185.3,164.6 M225.5,152.6 L225.5,164.6 M250.2,152.6 L250.2,164.6 M278.7,152.6 L278.7,164.6 M303.6,152.6 L303.6,164.6 M343.8,152.6 L343.8,164.6" stroke="#a8a8a8" stroke-width="1.3"/>
<text x="28.0" y="179.6" font-size="19.5" fill="#111" text-anchor="middle" textLength="9.2" lengthAdjust="spacingAndGlyphs" stroke="#111" stroke-width="0.45">0</text>
<text x="77.6" y="179.6" font-size="19.5" fill="#111" text-anchor="middle" textLength="27.8" lengthAdjust="spacingAndGlyphs" stroke="#111" stroke-width="0.45">1/4</text>
<text x="121.3" y="179.6" font-size="19.5" fill="#111" text-anchor="middle" textLength="27.8" lengthAdjust="spacingAndGlyphs" stroke="#111" stroke-width="0.45">1/2</text>
<text x="157.2" y="179.6" font-size="19.5" fill="#111" text-anchor="middle" textLength="27.8" lengthAdjust="spacingAndGlyphs" stroke="#111" stroke-width="0.45">3/4</text>
<text x="185.3" y="179.6" font-size="19.5" fill="#111" text-anchor="middle" textLength="9.2" lengthAdjust="spacingAndGlyphs" stroke="#111" stroke-width="0.45">1</text>
<text x="225.5" y="179.6" font-size="19.5" fill="#111" text-anchor="middle" textLength="27.8" lengthAdjust="spacingAndGlyphs" stroke="#111" stroke-width="0.45">3/2</text>
<text x="250.2" y="179.6" font-size="19.5" fill="#111" text-anchor="middle" textLength="9.2" lengthAdjust="spacingAndGlyphs" stroke="#111" stroke-width="0.45">2</text>
<text x="278.7" y="179.6" font-size="19.5" fill="#111" text-anchor="middle" textLength="9.2" lengthAdjust="spacingAndGlyphs" stroke="#111" stroke-width="0.45">3</text>
<text x="303.6" y="179.6" font-size="19.5" fill="#111" text-anchor="middle" textLength="9.2" lengthAdjust="spacingAndGlyphs" stroke="#111" stroke-width="0.45">5</text>
<text x="342.8" y="180.0" font-size="22" fill="#111" text-anchor="middle" textLength="19.0" lengthAdjust="spacingAndGlyphs" >∞</text>
<polygon points="302.6,142 318.4,142 310.5,155.1" fill="#333"/>
<text x="301.5" y="139.0" font-size="21" fill="#111" textLength="43.3" lengthAdjust="spacingAndGlyphs" >α=6</text>
<defs><linearGradient id="lgL" gradientUnits="userSpaceOnUse" x1="858.1" y1="135.8" x2="865.1" y2="142.8"><stop offset="0" stop-color="#fbfbfb"/><stop offset="1" stop-color="#eeeeee"/></linearGradient></defs>
<polygon points="909.2,84.6 806.9000000000001,186.89999999999998 909.2,289.2" fill="url(#lgL)"/>
<polygon points="909.2,84.6 1011.5,186.89999999999998 909.2,289.2" fill="#d0e7f2"/>
<path d="M908.86,93.43 L908.82,94.01 L908.77,94.58 L908.72,95.15 L908.66,95.73 L908.59,96.30 L908.52,96.88 L908.43,97.46 L908.34,98.03 L908.23,98.61 L908.11,99.19 L907.98,99.78 L907.83,100.36 L907.66,100.95 L907.47,101.55 L907.26,102.14 L907.02,102.75 L906.75,103.36 L906.45,103.99 L906.11,104.63 L905.73,105.28 L905.30,105.95 L904.83,106.65 L904.29,107.39 L903.68,108.16 L903.01,108.98 L902.24,109.85 L901.39,110.80 L900.43,111.83 L899.35,112.96 L898.14,114.21 L896.78,115.59 L895.25,117.13 L893.53,118.86 L891.61,120.79 L889.44,122.96 L887.01,125.39 L884.29,128.11 L881.22,131.18 L877.78,134.62 L873.92,138.48 L869.58,142.82 L864.71,147.69 L859.23,153.17 L853.09,159.31 L846.19,166.21 L838.44,173.96 L829.74,182.66 L819.97,192.43 L816.20,196.20 M908.86,112.03 L908.82,112.61 L908.77,113.18 L908.72,113.75 L908.66,114.33 L908.59,114.90 L908.52,115.48 L908.43,116.06 L908.34,116.63 L908.23,117.21 L908.11,117.79 L907.98,118.38 L907.83,118.96 L907.66,119.55 L907.47,120.15 L907.26,120.74 L907.02,121.35 L906.75,121.96 L906.45,122.59 L906.11,123.23 L905.73,123.88 L905.30,124.55 L904.83,125.25 L904.29,125.99 L903.68,126.76 L903.01,127.58 L902.24,128.45 L901.39,129.40 L900.43,130.43 L899.35,131.56 L898.14,132.81 L896.78,134.19 L895.25,135.73 L893.53,137.46 L891.61,139.39 L889.44,141.56 L887.01,143.99 L884.29,146.71 L881.22,149.78 L877.78,153.22 L873.92,157.08 L869.58,161.42 L864.71,166.29 L859.23,171.77 L853.09,177.91 L846.19,184.81 L838.44,192.56 L829.74,201.26 L825.50,205.50 M908.86,130.63 L908.82,131.21 L908.77,131.78 L908.72,132.35 L908.66,132.93 L908.59,133.50 L908.52,134.08 L908.43,134.66 L908.34,135.23 L908.23,135.81 L908.11,136.39 L907.98,136.98 L907.83,137.56 L907.66,138.15 L907.47,138.75 L907.26,139.34 L907.02,139.95 L906.75,140.56 L906.45,141.19 L906.11,141.83 L905.73,142.48 L905.30,143.15 L904.83,143.85 L904.29,144.59 L903.68,145.36 L903.01,146.18 L902.24,147.05 L901.39,148.00 L900.43,149.03 L899.35,150.16 L898.14,151.41 L896.78,152.79 L895.25,154.33 L893.53,156.06 L891.61,157.99 L889.44,160.16 L887.01,162.59 L884.29,165.31 L881.22,168.38 L877.78,171.82 L873.92,175.68 L869.58,180.02 L864.71,184.89 L859.23,190.37 L853.09,196.51 L846.19,203.41 L838.44,211.16 L834.80,214.80 M908.86,149.23 L908.82,149.81 L908.77,150.38 L908.72,150.95 L908.66,151.53 L908.59,152.10 L908.52,152.68 L908.43,153.26 L908.34,153.83 L908.23,154.41 L908.11,154.99 L907.98,155.58 L907.83,156.16 L907.66,156.75 L907.47,157.35 L907.26,157.94 L907.02,158.55 L906.75,159.16 L906.45,159.79 L906.11,160.43 L905.73,161.08 L905.30,161.75 L904.83,162.45 L904.29,163.19 L903.68,163.96 L903.01,164.78 L902.24,165.65 L901.39,166.60 L900.43,167.63 L899.35,168.76 L898.14,170.01 L896.78,171.39 L895.25,172.93 L893.53,174.66 L891.61,176.59 L889.44,178.76 L887.01,181.19 L884.29,183.91 L881.22,186.98 L877.78,190.42 L873.92,194.28 L869.58,198.62 L864.71,203.49 L859.23,208.97 L853.09,215.11 L846.19,222.01 L844.10,224.10 M908.86,167.83 L908.82,168.41 L908.77,168.98 L908.72,169.55 L908.66,170.13 L908.59,170.70 L908.52,171.28 L908.43,171.86 L908.34,172.43 L908.23,173.01 L908.11,173.59 L907.98,174.18 L907.83,174.76 L907.66,175.35 L907.47,175.95 L907.26,176.54 L907.02,177.15 L906.75,177.76 L906.45,178.39 L906.11,179.03 L905.73,179.68 L905.30,180.35 L904.83,181.05 L904.29,181.79 L903.68,182.56 L903.01,183.38 L902.24,184.25 L901.39,185.20 L900.43,186.23 L899.35,187.36 L898.14,188.61 L896.78,189.99 L895.25,191.53 L893.53,193.26 L891.61,195.19 L889.44,197.36 L887.01,199.79 L884.29,202.51 L881.22,205.58 L877.78,209.02 L873.92,212.88 L869.58,217.22 L864.71,222.09 L859.23,227.57 L853.40,233.40 M908.86,186.43 L908.82,187.01 L908.77,187.58 L908.72,188.15 L908.66,188.73 L908.59,189.30 L908.52,189.88 L908.43,190.46 L908.34,191.03 L908.23,191.61 L908.11,192.19 L907.98,192.78 L907.83,193.36 L907.66,193.95 L907.47,194.55 L907.26,195.14 L907.02,195.75 L906.75,196.36 L906.45,196.99 L906.11,197.63 L905.73,198.28 L905.30,198.95 L904.83,199.65 L904.29,200.39 L903.68,201.16 L903.01,201.98 L902.24,202.85 L901.39,203.80 L900.43,204.83 L899.35,205.96 L898.14,207.21 L896.78,208.59 L895.25,210.13 L893.53,211.86 L891.61,213.79 L889.44,215.96 L887.01,218.39 L884.29,221.11 L881.22,224.18 L877.78,227.62 L873.92,231.48 L869.58,235.82 L864.71,240.69 L862.70,242.70 M908.86,205.03 L908.82,205.61 L908.77,206.18 L908.72,206.75 L908.66,207.33 L908.59,207.90 L908.52,208.48 L908.43,209.06 L908.34,209.63 L908.23,210.21 L908.11,210.79 L907.98,211.38 L907.83,211.96 L907.66,212.55 L907.47,213.15 L907.26,213.74 L907.02,214.35 L906.75,214.96 L906.45,215.59 L906.11,216.23 L905.73,216.88 L905.30,217.55 L904.83,218.25 L904.29,218.99 L903.68,219.76 L903.01,220.58 L902.24,221.45 L901.39,222.40 L900.43,223.43 L899.35,224.56 L898.14,225.81 L896.78,227.19 L895.25,228.73 L893.53,230.46 L891.61,232.39 L889.44,234.56 L887.01,236.99 L884.29,239.71 L881.22,242.78 L877.78,246.22 L873.92,250.08 L872.00,252.00 M908.86,223.63 L908.82,224.21 L908.77,224.78 L908.72,225.35 L908.66,225.93 L908.59,226.50 L908.52,227.08 L908.43,227.66 L908.34,228.23 L908.23,228.81 L908.11,229.39 L907.98,229.98 L907.83,230.56 L907.66,231.15 L907.47,231.75 L907.26,232.34 L907.02,232.95 L906.75,233.56 L906.45,234.19 L906.11,234.83 L905.73,235.48 L905.30,236.15 L904.83,236.85 L904.29,237.59 L903.68,238.36 L903.01,239.18 L902.24,240.05 L901.39,241.00 L900.43,242.03 L899.35,243.16 L898.14,244.41 L896.78,245.79 L895.25,247.33 L893.53,249.06 L891.61,250.99 L889.44,253.16 L887.01,255.59 L884.29,258.31 L881.30,261.30 M908.86,242.23 L908.82,242.81 L908.77,243.38 L908.72,243.95 L908.66,244.53 L908.59,245.10 L908.52,245.68 L908.43,246.26 L908.34,246.83 L908.23,247.41 L908.11,247.99 L907.98,248.58 L907.83,249.16 L907.66,249.75 L907.47,250.35 L907.26,250.94 L907.02,251.55 L906.75,252.16 L906.45,252.79 L906.11,253.43 L905.73,254.08 L905.30,254.75 L904.83,255.45 L904.29,256.19 L903.68,256.96 L903.01,257.78 L902.24,258.65 L901.39,259.60 L900.43,260.63 L899.35,261.76 L898.14,263.01 L896.78,264.39 L895.25,265.93 L893.53,267.66 L891.61,269.59 L890.60,270.60 M908.86,260.83 L908.82,261.41 L908.77,261.98 L908.72,262.55 L908.66,263.13 L908.59,263.70 L908.52,264.28 L908.43,264.86 L908.34,265.43 L908.23,266.01 L908.11,266.59 L907.98,267.18 L907.83,267.76 L907.66,268.35 L907.47,268.95 L907.26,269.54 L907.02,270.15 L906.75,270.76 L906.45,271.39 L906.11,272.03 L905.73,272.68 L905.30,273.35 L904.83,274.05 L904.29,274.79 L903.68,275.56 L903.01,276.38 L902.24,277.25 L901.39,278.20 L900.43,279.23 L899.84,279.84" stroke="#8a8a8a" stroke-width="0.85" fill="none"/>
<path d="M909.54,93.43 L909.58,94.01 L909.63,94.58 L909.68,95.15 L909.74,95.73 L909.81,96.30 L909.88,96.88 L909.97,97.46 L910.06,98.03 L910.17,98.61 L910.29,99.19 L910.42,99.78 L910.57,100.36 L910.74,100.95 L910.93,101.55 L911.14,102.14 L911.38,102.75 L911.65,103.36 L911.95,103.99 L912.29,104.63 L912.67,105.28 L913.10,105.95 L913.57,106.65 L914.11,107.39 L914.72,108.16 L915.39,108.98 L916.16,109.85 L917.01,110.80 L917.97,111.83 L919.05,112.96 L920.26,114.21 L921.62,115.59 L923.15,117.13 L924.87,118.86 L926.79,120.79 L928.96,122.96 L931.39,125.39 L934.11,128.11 L937.18,131.18 L940.62,134.62 L944.48,138.48 L948.82,142.82 L953.69,147.69 L959.17,153.17 L965.31,159.31 L972.21,166.21 L979.96,173.96 L988.66,182.66 L998.43,192.43 L1002.20,196.20 M909.54,112.03 L909.58,112.61 L909.63,113.18 L909.68,113.75 L909.74,114.33 L909.81,114.90 L909.88,115.48 L909.97,116.06 L910.06,116.63 L910.17,117.21 L910.29,117.79 L910.42,118.38 L910.57,118.96 L910.74,119.55 L910.93,120.15 L911.14,120.74 L911.38,121.35 L911.65,121.96 L911.95,122.59 L912.29,123.23 L912.67,123.88 L913.10,124.55 L913.57,125.25 L914.11,125.99 L914.72,126.76 L915.39,127.58 L916.16,128.45 L917.01,129.40 L917.97,130.43 L919.05,131.56 L920.26,132.81 L921.62,134.19 L923.15,135.73 L924.87,137.46 L926.79,139.39 L928.96,141.56 L931.39,143.99 L934.11,146.71 L937.18,149.78 L940.62,153.22 L944.48,157.08 L948.82,161.42 L953.69,166.29 L959.17,171.77 L965.31,177.91 L972.21,184.81 L979.96,192.56 L988.66,201.26 L992.90,205.50 M909.54,130.63 L909.58,131.21 L909.63,131.78 L909.68,132.35 L909.74,132.93 L909.81,133.50 L909.88,134.08 L909.97,134.66 L910.06,135.23 L910.17,135.81 L910.29,136.39 L910.42,136.98 L910.57,137.56 L910.74,138.15 L910.93,138.75 L911.14,139.34 L911.38,139.95 L911.65,140.56 L911.95,141.19 L912.29,141.83 L912.67,142.48 L913.10,143.15 L913.57,143.85 L914.11,144.59 L914.72,145.36 L915.39,146.18 L916.16,147.05 L917.01,148.00 L917.97,149.03 L919.05,150.16 L920.26,151.41 L921.62,152.79 L923.15,154.33 L924.87,156.06 L926.79,157.99 L928.96,160.16 L931.39,162.59 L934.11,165.31 L937.18,168.38 L940.62,171.82 L944.48,175.68 L948.82,180.02 L953.69,184.89 L959.17,190.37 L965.31,196.51 L972.21,203.41 L979.96,211.16 L983.60,214.80 M909.54,149.23 L909.58,149.81 L909.63,150.38 L909.68,150.95 L909.74,151.53 L909.81,152.10 L909.88,152.68 L909.97,153.26 L910.06,153.83 L910.17,154.41 L910.29,154.99 L910.42,155.58 L910.57,156.16 L910.74,156.75 L910.93,157.35 L911.14,157.94 L911.38,158.55 L911.65,159.16 L911.95,159.79 L912.29,160.43 L912.67,161.08 L913.10,161.75 L913.57,162.45 L914.11,163.19 L914.72,163.96 L915.39,164.78 L916.16,165.65 L917.01,166.60 L917.97,167.63 L919.05,168.76 L920.26,170.01 L921.62,171.39 L923.15,172.93 L924.87,174.66 L926.79,176.59 L928.96,178.76 L931.39,181.19 L934.11,183.91 L937.18,186.98 L940.62,190.42 L944.48,194.28 L948.82,198.62 L953.69,203.49 L959.17,208.97 L965.31,215.11 L972.21,222.01 L974.30,224.10 M909.54,167.83 L909.58,168.41 L909.63,168.98 L909.68,169.55 L909.74,170.13 L909.81,170.70 L909.88,171.28 L909.97,171.86 L910.06,172.43 L910.17,173.01 L910.29,173.59 L910.42,174.18 L910.57,174.76 L910.74,175.35 L910.93,175.95 L911.14,176.54 L911.38,177.15 L911.65,177.76 L911.95,178.39 L912.29,179.03 L912.67,179.68 L913.10,180.35 L913.57,181.05 L914.11,181.79 L914.72,182.56 L915.39,183.38 L916.16,184.25 L917.01,185.20 L917.97,186.23 L919.05,187.36 L920.26,188.61 L921.62,189.99 L923.15,191.53 L924.87,193.26 L926.79,195.19 L928.96,197.36 L931.39,199.79 L934.11,202.51 L937.18,205.58 L940.62,209.02 L944.48,212.88 L948.82,217.22 L953.69,222.09 L959.17,227.57 L965.00,233.40 M909.54,186.43 L909.58,187.01 L909.63,187.58 L909.68,188.15 L909.74,188.73 L909.81,189.30 L909.88,189.88 L909.97,190.46 L910.06,191.03 L910.17,191.61 L910.29,192.19 L910.42,192.78 L910.57,193.36 L910.74,193.95 L910.93,194.55 L911.14,195.14 L911.38,195.75 L911.65,196.36 L911.95,196.99 L912.29,197.63 L912.67,198.28 L913.10,198.95 L913.57,199.65 L914.11,200.39 L914.72,201.16 L915.39,201.98 L916.16,202.85 L917.01,203.80 L917.97,204.83 L919.05,205.96 L920.26,207.21 L921.62,208.59 L923.15,210.13 L924.87,211.86 L926.79,213.79 L928.96,215.96 L931.39,218.39 L934.11,221.11 L937.18,224.18 L940.62,227.62 L944.48,231.48 L948.82,235.82 L953.69,240.69 L955.70,242.70 M909.54,205.03 L909.58,205.61 L909.63,206.18 L909.68,206.75 L909.74,207.33 L909.81,207.90 L909.88,208.48 L909.97,209.06 L910.06,209.63 L910.17,210.21 L910.29,210.79 L910.42,211.38 L910.57,211.96 L910.74,212.55 L910.93,213.15 L911.14,213.74 L911.38,214.35 L911.65,214.96 L911.95,215.59 L912.29,216.23 L912.67,216.88 L913.10,217.55 L913.57,218.25 L914.11,218.99 L914.72,219.76 L915.39,220.58 L916.16,221.45 L917.01,222.40 L917.97,223.43 L919.05,224.56 L920.26,225.81 L921.62,227.19 L923.15,228.73 L924.87,230.46 L926.79,232.39 L928.96,234.56 L931.39,236.99 L934.11,239.71 L937.18,242.78 L940.62,246.22 L944.48,250.08 L946.40,252.00 M909.54,223.63 L909.58,224.21 L909.63,224.78 L909.68,225.35 L909.74,225.93 L909.81,226.50 L909.88,227.08 L909.97,227.66 L910.06,228.23 L910.17,228.81 L910.29,229.39 L910.42,229.98 L910.57,230.56 L910.74,231.15 L910.93,231.75 L911.14,232.34 L911.38,232.95 L911.65,233.56 L911.95,234.19 L912.29,234.83 L912.67,235.48 L913.10,236.15 L913.57,236.85 L914.11,237.59 L914.72,238.36 L915.39,239.18 L916.16,240.05 L917.01,241.00 L917.97,242.03 L919.05,243.16 L920.26,244.41 L921.62,245.79 L923.15,247.33 L924.87,249.06 L926.79,250.99 L928.96,253.16 L931.39,255.59 L934.11,258.31 L937.10,261.30 M909.54,242.23 L909.58,242.81 L909.63,243.38 L909.68,243.95 L909.74,244.53 L909.81,245.10 L909.88,245.68 L909.97,246.26 L910.06,246.83 L910.17,247.41 L910.29,247.99 L910.42,248.58 L910.57,249.16 L910.74,249.75 L910.93,250.35 L911.14,250.94 L911.38,251.55 L911.65,252.16 L911.95,252.79 L912.29,253.43 L912.67,254.08 L913.10,254.75 L913.57,255.45 L914.11,256.19 L914.72,256.96 L915.39,257.78 L916.16,258.65 L917.01,259.60 L917.97,260.63 L919.05,261.76 L920.26,263.01 L921.62,264.39 L923.15,265.93 L924.87,267.66 L926.79,269.59 L927.80,270.60 M909.54,260.83 L909.58,261.41 L909.63,261.98 L909.68,262.55 L909.74,263.13 L909.81,263.70 L909.88,264.28 L909.97,264.86 L910.06,265.43 L910.17,266.01 L910.29,266.59 L910.42,267.18 L910.57,267.76 L910.74,268.35 L910.93,268.95 L911.14,269.54 L911.38,270.15 L911.65,270.76 L911.95,271.39 L912.29,272.03 L912.67,272.68 L913.10,273.35 L913.57,274.05 L914.11,274.79 L914.72,275.56 L915.39,276.38 L916.16,277.25 L917.01,278.20 L917.97,279.23 L918.56,279.84" stroke="#6a6a6a" stroke-width="0.9" fill="none"/>
<line x1="909.2" y1="84.6" x2="909.2" y2="295.2" stroke="#858585" stroke-width="1.1"/>
<path d="M905.2,297.2 L909.2,292.2 L913.2,297.2" stroke="#777" stroke-width="1" fill="none"/>
<path d="M805.9,187.9 l-3,3 M1012.5,187.9 l3,3 M840.0,222.0 l-3,3 M978.4,222.0 l3,3 M874.1,256.1 l-3,3 M944.3,256.1 l3,3" stroke="#555" stroke-width="1.2" fill="none"/>
<text x="909.2" y="158.5" font-size="26" fill="#7a7a7a" text-anchor="middle" textLength="90.3" lengthAdjust="spacingAndGlyphs" >Lines of</text>
<text x="909.2" y="190.8" font-size="26" fill="#7a7a7a" text-anchor="middle" textLength="102.2" lengthAdjust="spacingAndGlyphs" >Constant</text>
<text x="878.4" y="222.0" font-size="27" fill="#7a7a7a" font-style="italic" textLength="34.0" lengthAdjust="spacingAndGlyphs" >δD</text>
<text x="913.0" y="210.0" font-size="17" fill="#7a7a7a" >R</text>
<text x="912.0" y="229.0" font-size="17" fill="#7a7a7a" font-style="italic" >6,τ</text>
<text x="766.5" y="213.6" font-size="19" fill="#222" textLength="33.8" lengthAdjust="spacingAndGlyphs" >1.17</text>
<text x="789.0" y="246.7" font-size="19" fill="#222" textLength="43.3" lengthAdjust="spacingAndGlyphs" >0.162</text>
<text x="813.0" y="281.0" font-size="19" fill="#222" textLength="52.8" lengthAdjust="spacingAndGlyphs" >0.0225</text>
<text x="1019.0" y="213.6" font-size="19" fill="#222" textLength="33.8" lengthAdjust="spacingAndGlyphs" >1.17</text>
<text x="984.0" y="246.7" font-size="19" fill="#222" textLength="43.3" lengthAdjust="spacingAndGlyphs" >0.162</text>
<text x="951.0" y="281.0" font-size="19" fill="#222" textLength="52.8" lengthAdjust="spacingAndGlyphs" >0.0225</text>
<text x="891.0" y="315.3" font-size="19" fill="#222" textLength="35.0" lengthAdjust="spacingAndGlyphs" >000</text>
<rect x="28.2" y="709.40" width="12.5" height="13.31" fill="#fbfcbf"/>
<rect x="28.2" y="722.40" width="12.5" height="13.31" fill="#fce5a6"/>
<rect x="28.2" y="735.41" width="12.5" height="13.31" fill="#fdcd90"/>
<rect x="28.2" y="748.41" width="12.5" height="13.31" fill="#feb37b"/>
<rect x="28.2" y="761.42" width="12.5" height="13.31" fill="#fd9b6a"/>
<rect x="28.2" y="774.42" width="12.5" height="13.31" fill="#fa805e"/>
<rect x="28.2" y="787.43" width="12.5" height="13.31" fill="#f4685b"/>
<rect x="28.2" y="800.43" width="12.5" height="13.31" fill="#e75262"/>
<rect x="28.2" y="813.44" width="12.5" height="13.31" fill="#d6446c"/>
<rect x="28.2" y="826.44" width="12.5" height="13.31" fill="#c03a75"/>
<rect x="28.2" y="839.45" width="12.5" height="13.31" fill="#ab337c"/>
<rect x="28.2" y="852.45" width="12.5" height="13.31" fill="#942b80"/>
<rect x="28.2" y="865.46" width="12.5" height="13.31" fill="#7f2481"/>
<rect x="28.2" y="878.46" width="12.5" height="13.31" fill="#691c80"/>
<rect x="28.2" y="891.47" width="12.5" height="13.31" fill="#55137d"/>
<rect x="28.2" y="904.48" width="12.5" height="13.31" fill="#3e0f72"/>
<rect x="28.2" y="917.48" width="12.5" height="13.31" fill="#281159"/>
<rect x="28.2" y="930.49" width="12.5" height="13.31" fill="#150e38"/>
<rect x="28.2" y="943.49" width="12.5" height="13.31" fill="#07051b"/>
<rect x="28.2" y="956.50" width="12.5" height="13.31" fill="#000003"/>
<line x1="28.2" x2="40.7" y1="722.40" y2="722.40" stroke="#000" stroke-opacity="0.12" stroke-width="0.8"/>
<line x1="28.2" x2="40.7" y1="735.41" y2="735.41" stroke="#000" stroke-opacity="0.12" stroke-width="0.8"/>
<line x1="28.2" x2="40.7" y1="748.41" y2="748.41" stroke="#000" stroke-opacity="0.12" stroke-width="0.8"/>
<line x1="28.2" x2="40.7" y1="761.42" y2="761.42" stroke="#000" stroke-opacity="0.12" stroke-width="0.8"/>
<line x1="28.2" x2="40.7" y1="774.42" y2="774.42" stroke="#000" stroke-opacity="0.12" stroke-width="0.8"/>
<line x1="28.2" x2="40.7" y1="787.43" y2="787.43" stroke="#000" stroke-opacity="0.12" stroke-width="0.8"/>
<line x1="28.2" x2="40.7" y1="800.43" y2="800.43" stroke="#000" stroke-opacity="0.12" stroke-width="0.8"/>
<line x1="28.2" x2="40.7" y1="813.44" y2="813.44" stroke="#000" stroke-opacity="0.12" stroke-width="0.8"/>
<line x1="28.2" x2="40.7" y1="826.44" y2="826.44" stroke="#000" stroke-opacity="0.12" stroke-width="0.8"/>
<line x1="28.2" x2="40.7" y1="839.45" y2="839.45" stroke="#000" stroke-opacity="0.12" stroke-width="0.8"/>
<line x1="28.2" x2="40.7" y1="852.45" y2="852.45" stroke="#000" stroke-opacity="0.12" stroke-width="0.8"/>
<line x1="28.2" x2="40.7" y1="865.46" y2="865.46" stroke="#000" stroke-opacity="0.12" stroke-width="0.8"/>
<line x1="28.2" x2="40.7" y1="878.46" y2="878.46" stroke="#000" stroke-opacity="0.12" stroke-width="0.8"/>
<line x1="28.2" x2="40.7" y1="891.47" y2="891.47" stroke="#000" stroke-opacity="0.12" stroke-width="0.8"/>
<line x1="28.2" x2="40.7" y1="904.48" y2="904.48" stroke="#000" stroke-opacity="0.12" stroke-width="0.8"/>
<line x1="28.2" x2="40.7" y1="917.48" y2="917.48" stroke="#000" stroke-opacity="0.12" stroke-width="0.8"/>
<line x1="28.2" x2="40.7" y1="930.49" y2="930.49" stroke="#000" stroke-opacity="0.12" stroke-width="0.8"/>
<line x1="28.2" x2="40.7" y1="943.49" y2="943.49" stroke="#000" stroke-opacity="0.12" stroke-width="0.8"/>
<line x1="28.2" x2="40.7" y1="956.50" y2="956.50" stroke="#000" stroke-opacity="0.12" stroke-width="0.8"/>
<text x="49.0" y="721.5" font-size="21" fill="#111" textLength="10.5" lengthAdjust="spacingAndGlyphs" >1</text>
<text x="49.0" y="967.0" font-size="21" fill="#111" textLength="21.0" lengthAdjust="spacingAndGlyphs" >10</text>
<text x="29.7" y="995.0" font-size="25" fill="#111" textLength="170.3" lengthAdjust="spacingAndGlyphs" >Counts per cell</text>
<text transform="translate(98.9,631.0) rotate(45)" x="0" y="8.7" font-size="29" fill="#a6a6a6" text-anchor="middle" textLength="64.0" lengthAdjust="spacingAndGlyphs">more</text>
<text transform="translate(76.3,656.7) rotate(45)" x="0" y="8.7" font-size="29" fill="#a6a6a6" text-anchor="middle" textLength="79.5" lengthAdjust="spacingAndGlyphs">talked</text>
<text transform="translate(49.8,681.5) rotate(45)" x="0" y="8.7" font-size="29" fill="#a6a6a6" text-anchor="middle" textLength="73.8" lengthAdjust="spacingAndGlyphs">about</text>
<path d="M38.2,619.3 L20.9,602.0 M20.9,602.0 q-0.8,3.1 1.0,8.4 M20.9,602.0 q2.8,1.6 8.4,1.0" stroke="#a6a6a6" stroke-width="1.5" fill="none" stroke-linecap="round"/>
<text transform="translate(953.6,640.0) rotate(-45)" x="0" y="8.7" font-size="29" fill="#a6a6a6" text-anchor="middle" textLength="64.0" lengthAdjust="spacingAndGlyphs">more</text>
<text transform="translate(978.5,662.5) rotate(-45)" x="0" y="8.7" font-size="29" fill="#a6a6a6" text-anchor="middle" textLength="79.5" lengthAdjust="spacingAndGlyphs">talked</text>
<text transform="translate(1004.8,690.0) rotate(-45)" x="0" y="8.7" font-size="29" fill="#a6a6a6" text-anchor="middle" textLength="73.8" lengthAdjust="spacingAndGlyphs">about</text>
<path d="M1014.7,628.5 L1031.8,611.6 M1031.8,611.6 q-3.1,-0.8 -8.4,1.0 M1031.8,611.6 q-1.6,2.8 -1.1,8.4" stroke="#a6a6a6" stroke-width="1.5" fill="none" stroke-linecap="round"/>
<text transform="translate(408.3,946.6) rotate(45)" x="0" y="8.7" font-size="29" fill="#a6a6a6" text-anchor="middle" textLength="44.5" lengthAdjust="spacingAndGlyphs">less</text>
<text transform="translate(384.2,974.0) rotate(45)" x="0" y="8.7" font-size="29" fill="#a6a6a6" text-anchor="middle" textLength="79.5" lengthAdjust="spacingAndGlyphs">talked</text>
<text transform="translate(357.4,998.1) rotate(45)" x="0" y="8.7" font-size="29" fill="#a6a6a6" text-anchor="middle" textLength="73.8" lengthAdjust="spacingAndGlyphs">about</text>
<path d="M418.4,1010.0 L435.7,1027.3 M435.7,1027.3 q0.8,-3.1 -1.0,-8.4 M435.7,1027.3 q-2.8,-1.6 -8.4,-1.0" stroke="#a6a6a6" stroke-width="1.5" fill="none" stroke-linecap="round"/>
<text transform="translate(665.8,920.3) rotate(-45)" x="0" y="8.7" font-size="29" fill="#a6a6a6" text-anchor="middle" textLength="44.5" lengthAdjust="spacingAndGlyphs">less</text>
<text transform="translate(693.6,945.3) rotate(-45)" x="0" y="8.7" font-size="29" fill="#a6a6a6" text-anchor="middle" textLength="79.5" lengthAdjust="spacingAndGlyphs">talked</text>
<text transform="translate(719.9,969.6) rotate(-45)" x="0" y="8.7" font-size="29" fill="#a6a6a6" text-anchor="middle" textLength="73.8" lengthAdjust="spacingAndGlyphs">about</text>
<path d="M656.8,984.2 L639.5,1001.5 M639.5,1001.5 q3.1,0.8 8.4,-1.0 M639.5,1001.5 q1.6,-2.8 1.0,-8.4" stroke="#a6a6a6" stroke-width="1.5" fill="none" stroke-linecap="round"/>
<text x="1121.0" y="36.6" font-size="31" fill="#222" textLength="343.7" lengthAdjust="spacingAndGlyphs" >Divergence contribution</text>
<text x="1477.0" y="36.6" font-size="31" fill="#222" font-style="italic" textLength="41.7" lengthAdjust="spacingAndGlyphs" >δD</text>
<text x="1520.5" y="24.0" font-size="21" fill="#222" >R</text>
<text x="1520.0" y="45.0" font-size="20.5" fill="#222" font-style="italic" textLength="28.0" lengthAdjust="spacingAndGlyphs" >6,τ</text>
<text x="1555.0" y="38.0" font-size="34" fill="#222" textLength="49.5" lengthAdjust="spacingAndGlyphs" >(%)</text>
<line x1="1084" y1="91.2" x2="1640.6" y2="91.2" stroke="#999" stroke-width="1.5"/>
<path d="M1113.8,91 L1113.8,100.5 M1362.7,91 L1362.7,100.5 M1611.7,91 L1611.7,100.5" stroke="#999" stroke-width="1.5"/>
<text x="1113.8" y="75.9" font-size="25" fill="#222" text-anchor="middle" >5</text>
<text x="1611.7" y="75.9" font-size="25" fill="#222" text-anchor="middle" >5</text>
<text x="1362.7" y="75.9" font-size="25" fill="#222" text-anchor="middle" >0</text>
<rect x="1083.6" y="114.1" width="279.1" height="17" fill="#f7f7f7" stroke="#ebebeb" stroke-width="0.8"/>
<rect x="1362.7" y="135.2" width="279.1" height="17" fill="#c2e1ef"/>
<rect x="1165.5" y="156.3" width="197.2" height="17" fill="#f7f7f7" stroke="#ebebeb" stroke-width="0.8"/>
<rect x="1362.7" y="177.5" width="197.2" height="17" fill="#c2e1ef"/>
<rect x="1208.6" y="198.6" width="154.1" height="17" fill="#f7f7f7" stroke="#ebebeb" stroke-width="0.8"/>
<rect x="1362.7" y="219.7" width="154.1" height="17" fill="#c2e1ef"/>
<rect x="1235.4" y="240.8" width="127.3" height="17" fill="#f7f7f7" stroke="#ebebeb" stroke-width="0.8"/>
<rect x="1362.7" y="261.9" width="127.3" height="17" fill="#c2e1ef"/>
<rect x="1253.9" y="283.1" width="108.8" height="17" fill="#f7f7f7" stroke="#ebebeb" stroke-width="0.8"/>
<rect x="1362.7" y="304.2" width="108.7" height="17" fill="#c2e1ef"/>
<rect x="1362.7" y="325.3" width="95.4" height="17" fill="#c2e1ef"/>
<rect x="1267.3" y="346.4" width="95.4" height="17" fill="#f7f7f7" stroke="#ebebeb" stroke-width="0.8"/>
<rect x="1362.7" y="367.5" width="85.1" height="17" fill="#c2e1ef"/>
<rect x="1277.6" y="388.7" width="85.1" height="17" fill="#f7f7f7" stroke="#ebebeb" stroke-width="0.8"/>
<rect x="1362.7" y="409.8" width="76.9" height="17" fill="#c2e1ef"/>
<rect x="1285.9" y="430.9" width="76.8" height="17" fill="#f7f7f7" stroke="#ebebeb" stroke-width="0.8"/>
<rect x="1362.7" y="452.0" width="70.2" height="17" fill="#c2e1ef"/>
<rect x="1292.5" y="473.1" width="70.2" height="17" fill="#f7f7f7" stroke="#ebebeb" stroke-width="0.8"/>
<rect x="1362.7" y="494.3" width="64.7" height="17" fill="#c2e1ef"/>
<rect x="1298.0" y="515.4" width="64.7" height="17" fill="#f7f7f7" stroke="#ebebeb" stroke-width="0.8"/>
<rect x="1362.7" y="536.5" width="60.1" height="17" fill="#c2e1ef"/>
<rect x="1303.0" y="557.6" width="59.7" height="17" fill="#f7f7f7" stroke="#ebebeb" stroke-width="0.8"/>
<rect x="1306.6" y="578.7" width="56.1" height="17" fill="#f7f7f7" stroke="#ebebeb" stroke-width="0.8"/>
<rect x="1362.7" y="599.9" width="55.2" height="17" fill="#c2e1ef"/>
<rect x="1362.7" y="621.0" width="52.6" height="17" fill="#c2e1ef"/>
<rect x="1362.7" y="642.1" width="49.6" height="17" fill="#c2e1ef"/>
<rect x="1313.1" y="663.2" width="49.6" height="17" fill="#f7f7f7" stroke="#ebebeb" stroke-width="0.8"/>
<rect x="1362.7" y="684.3" width="47.0" height="17" fill="#c2e1ef"/>
<rect x="1315.7" y="705.5" width="47.0" height="17" fill="#f7f7f7" stroke="#ebebeb" stroke-width="0.8"/>
<rect x="1362.7" y="726.6" width="44.6" height="17" fill="#c2e1ef"/>
<rect x="1318.1" y="747.7" width="44.6" height="17" fill="#f7f7f7" stroke="#ebebeb" stroke-width="0.8"/>
<rect x="1320.3" y="768.8" width="42.4" height="17" fill="#f7f7f7" stroke="#ebebeb" stroke-width="0.8"/>
<rect x="1362.7" y="789.9" width="42.4" height="17" fill="#c2e1ef"/>
<rect x="1362.7" y="811.1" width="39.3" height="17" fill="#c2e1ef"/>
<rect x="1324.3" y="832.2" width="38.4" height="17" fill="#f7f7f7" stroke="#ebebeb" stroke-width="0.8"/>
<rect x="1325.5" y="853.3" width="37.2" height="17" fill="#f7f7f7" stroke="#ebebeb" stroke-width="0.8"/>
<rect x="1362.7" y="874.4" width="37.2" height="17" fill="#c2e1ef"/>
<rect x="1327.0" y="895.5" width="35.7" height="17" fill="#f7f7f7" stroke="#ebebeb" stroke-width="0.8"/>
<rect x="1328.3" y="916.7" width="34.4" height="17" fill="#f7f7f7" stroke="#ebebeb" stroke-width="0.8"/>
<rect x="1362.7" y="937.8" width="34.4" height="17" fill="#c2e1ef"/>
<text x="1358.3" y="128.9" font-size="25" fill="#111" text-anchor="end" textLength="273.9" lengthAdjust="spacingAndGlyphs" >Business-administration</text>
<text x="1368.0" y="128.9" font-size="25" fill="#ababab" textLength="76.5" lengthAdjust="spacingAndGlyphs" >2⇌126</text>
<text x="1367.5" y="150.0" font-size="25" fill="#111" textLength="88.2" lengthAdjust="spacingAndGlyphs" >Surgery</text>
<text x="1357.5" y="150.0" font-size="25" fill="#d2d2d2" text-anchor="end" textLength="63.8" lengthAdjust="spacingAndGlyphs" >59⇌2</text>
<text x="1358.3" y="171.1" font-size="25" fill="#111" text-anchor="end" textLength="279.7" lengthAdjust="spacingAndGlyphs" >Operations-management</text>
<text x="1368.0" y="171.1" font-size="25" fill="#ababab" textLength="63.8" lengthAdjust="spacingAndGlyphs" >3⇌54</text>
<text x="1367.5" y="192.3" font-size="25" fill="#111" textLength="180.8" lengthAdjust="spacingAndGlyphs" >Medical-physics</text>
<text x="1357.5" y="192.3" font-size="25" fill="#d2d2d2" text-anchor="end" textLength="63.8" lengthAdjust="spacingAndGlyphs" >36⇌3</text>
<text x="1358.3" y="213.4" font-size="25" fill="#111" text-anchor="end" textLength="182.0" lengthAdjust="spacingAndGlyphs" >Communication</text>
<text x="1368.0" y="213.4" font-size="25" fill="#ababab" textLength="63.8" lengthAdjust="spacingAndGlyphs" >4⇌95</text>
<text x="1367.5" y="234.5" font-size="25" fill="#111" textLength="107.0" lengthAdjust="spacingAndGlyphs" >Oncology</text>
<text x="1357.5" y="234.5" font-size="25" fill="#d2d2d2" text-anchor="end" textLength="63.8" lengthAdjust="spacingAndGlyphs" >89⇌4</text>
<text x="1358.3" y="255.6" font-size="25" fill="#111" text-anchor="end" textLength="154.4" lengthAdjust="spacingAndGlyphs" >Social-science</text>
<text x="1368.0" y="255.6" font-size="25" fill="#ababab" textLength="76.5" lengthAdjust="spacingAndGlyphs" >5⇌120</text>
<text x="1367.5" y="276.7" font-size="25" fill="#111" textLength="116.1" lengthAdjust="spacingAndGlyphs" >Pathology</text>
<text x="1357.5" y="276.7" font-size="25" fill="#d2d2d2" text-anchor="end" textLength="76.5" lengthAdjust="spacingAndGlyphs" >119⇌5</text>
<text x="1358.3" y="297.9" font-size="25" fill="#111" text-anchor="end" textLength="118.0" lengthAdjust="spacingAndGlyphs" >Marketing</text>
<text x="1368.0" y="297.9" font-size="25" fill="#ababab" textLength="63.8" lengthAdjust="spacingAndGlyphs" >6⇌87</text>
<text x="1367.5" y="319.0" font-size="25" fill="#111" textLength="124.6" lengthAdjust="spacingAndGlyphs" >Cardiology</text>
<text x="1357.5" y="319.0" font-size="25" fill="#d2d2d2" text-anchor="end" textLength="63.8" lengthAdjust="spacingAndGlyphs" >14⇌6</text>
<text x="1367.5" y="340.1" font-size="25" fill="#111" textLength="200.2" lengthAdjust="spacingAndGlyphs" >Internal-medicine</text>
<text x="1357.5" y="340.1" font-size="25" fill="#d2d2d2" text-anchor="end" textLength="63.8" lengthAdjust="spacingAndGlyphs" >44⇌7</text>
<text x="1358.3" y="361.2" font-size="25" fill="#111" text-anchor="end" textLength="89.8" lengthAdjust="spacingAndGlyphs" >Nursing</text>
<text x="1368.0" y="361.2" font-size="25" fill="#ababab" textLength="63.8" lengthAdjust="spacingAndGlyphs" >7⇌41</text>
<text x="1367.5" y="382.3" font-size="25" fill="#111" textLength="196.3" lengthAdjust="spacingAndGlyphs" >Gastroenterology</text>
<text x="1357.5" y="382.3" font-size="25" fill="#d2d2d2" text-anchor="end" textLength="76.5" lengthAdjust="spacingAndGlyphs" >119⇌8</text>
<text x="1358.3" y="403.5" font-size="25" fill="#111" text-anchor="end" textLength="253.7" lengthAdjust="spacingAndGlyphs" >Transport-engineering</text>
<text x="1368.0" y="403.5" font-size="25" fill="#ababab" textLength="76.5" lengthAdjust="spacingAndGlyphs" >8⇌111</text>
<text x="1367.5" y="424.6" font-size="25" fill="#111" textLength="181.8" lengthAdjust="spacingAndGlyphs" >General-surgery</text>
<text x="1357.5" y="424.6" font-size="25" fill="#d2d2d2" text-anchor="end" textLength="63.8" lengthAdjust="spacingAndGlyphs" >45⇌9</text>
<text x="1358.3" y="445.7" font-size="25" fill="#111" text-anchor="end" textLength="218.4" lengthAdjust="spacingAndGlyphs" >Medical-emergency</text>
<text x="1368.0" y="445.7" font-size="25" fill="#ababab" textLength="63.8" lengthAdjust="spacingAndGlyphs" >9⇌22</text>
<text x="1367.5" y="466.8" font-size="25" fill="#111" textLength="90.3" lengthAdjust="spacingAndGlyphs" >Urology</text>
<text x="1357.5" y="466.8" font-size="25" fill="#d2d2d2" text-anchor="end" textLength="89.2" lengthAdjust="spacingAndGlyphs" >119⇌10</text>
<text x="1358.3" y="487.9" font-size="25" fill="#111" text-anchor="end" textLength="145.3" lengthAdjust="spacingAndGlyphs" >Food-science</text>
<text x="1368.0" y="487.9" font-size="25" fill="#ababab" textLength="76.5" lengthAdjust="spacingAndGlyphs" >10⇌67</text>
<text x="1367.5" y="509.1" font-size="25" fill="#111" textLength="268.0" lengthAdjust="spacingAndGlyphs" >Intensive-care-medicine</text>
<text x="1357.5" y="509.1" font-size="25" fill="#d2d2d2" text-anchor="end" textLength="76.5" lengthAdjust="spacingAndGlyphs" >72⇌11</text>
<text x="1358.3" y="530.2" font-size="25" fill="#111" text-anchor="end" textLength="108.3" lengthAdjust="spacingAndGlyphs" >Dentistry</text>
<text x="1368.0" y="530.2" font-size="25" fill="#ababab" textLength="76.5" lengthAdjust="spacingAndGlyphs" >11⇌24</text>
<text x="1367.5" y="551.3" font-size="25" fill="#111" textLength="132.7" lengthAdjust="spacingAndGlyphs" >Gynecology</text>
<text x="1357.5" y="551.3" font-size="25" fill="#d2d2d2" text-anchor="end" textLength="89.2" lengthAdjust="spacingAndGlyphs" >119⇌12</text>
<text x="1358.3" y="572.4" font-size="25" fill="#111" text-anchor="end" textLength="189.6" lengthAdjust="spacingAndGlyphs" >Family-medicine</text>
<text x="1368.0" y="572.4" font-size="25" fill="#ababab" textLength="76.5" lengthAdjust="spacingAndGlyphs" >12⇌20</text>
<text x="1358.3" y="593.5" font-size="25" fill="#111" text-anchor="end" textLength="140.6" lengthAdjust="spacingAndGlyphs" >Criminology</text>
<text x="1368.0" y="593.5" font-size="25" fill="#ababab" textLength="76.5" lengthAdjust="spacingAndGlyphs" >13⇌79</text>
<text x="1367.5" y="614.7" font-size="25" fill="#111" textLength="264.6" lengthAdjust="spacingAndGlyphs" >Biomedical-engineering</text>
<text x="1357.5" y="614.7" font-size="25" fill="#d2d2d2" text-anchor="end" textLength="76.5" lengthAdjust="spacingAndGlyphs" >19⇌13</text>
<text x="1367.5" y="635.8" font-size="25" fill="#111" textLength="150.2" lengthAdjust="spacingAndGlyphs" >Orthodontics</text>
<text x="1357.5" y="635.8" font-size="25" fill="#d2d2d2" text-anchor="end" textLength="89.2" lengthAdjust="spacingAndGlyphs" >100⇌14</text>
<text x="1367.5" y="656.9" font-size="25" fill="#111" textLength="110.9" lengthAdjust="spacingAndGlyphs" >pediatrics</text>
<text x="1357.5" y="656.9" font-size="25" fill="#d2d2d2" text-anchor="end" textLength="76.5" lengthAdjust="spacingAndGlyphs" >89⇌15</text>
<text x="1358.3" y="678.0" font-size="25" fill="#111" text-anchor="end" textLength="253.8" lengthAdjust="spacingAndGlyphs" >Electronic-engineering</text>
<text x="1368.0" y="678.0" font-size="25" fill="#ababab" textLength="76.5" lengthAdjust="spacingAndGlyphs" >15⇌61</text>
<text x="1367.5" y="699.1" font-size="25" fill="#111" textLength="123.3" lengthAdjust="spacingAndGlyphs" >Anesthesia</text>
<text x="1357.5" y="699.1" font-size="25" fill="#d2d2d2" text-anchor="end" textLength="89.2" lengthAdjust="spacingAndGlyphs" >119⇌16</text>
<text x="1358.3" y="720.3" font-size="25" fill="#111" text-anchor="end" textLength="229.7" lengthAdjust="spacingAndGlyphs" >Financial-economics</text>
<text x="1368.0" y="720.3" font-size="25" fill="#ababab" textLength="89.2" lengthAdjust="spacingAndGlyphs" >16⇌115</text>
<text x="1367.5" y="741.4" font-size="25" fill="#111" textLength="116.8" lengthAdjust="spacingAndGlyphs" >Obstetrics</text>
<text x="1357.5" y="741.4" font-size="25" fill="#d2d2d2" text-anchor="end" textLength="89.2" lengthAdjust="spacingAndGlyphs" >100⇌17</text>
<text x="1358.3" y="762.5" font-size="25" fill="#111" text-anchor="end" textLength="225.8" lengthAdjust="spacingAndGlyphs" >Control-engineering</text>
<text x="1368.0" y="762.5" font-size="25" fill="#ababab" textLength="76.5" lengthAdjust="spacingAndGlyphs" >17⇌96</text>
<text x="1358.3" y="783.6" font-size="25" fill="#111" text-anchor="end" textLength="246.8" lengthAdjust="spacingAndGlyphs" >Mechanic-engineering</text>
<text x="1368.0" y="783.6" font-size="25" fill="#ababab" textLength="89.2" lengthAdjust="spacingAndGlyphs" >18⇌126</text>
<text x="1367.5" y="804.7" font-size="25" fill="#111" textLength="235.5" lengthAdjust="spacingAndGlyphs" >Emergency-medicine</text>
<text x="1357.5" y="804.7" font-size="25" fill="#d2d2d2" text-anchor="end" textLength="76.5" lengthAdjust="spacingAndGlyphs" >70⇌18</text>
<text x="1367.5" y="825.9" font-size="25" fill="#111" textLength="192.8" lengthAdjust="spacingAndGlyphs" >Physical-therapy</text>
<text x="1357.5" y="825.9" font-size="25" fill="#d2d2d2" text-anchor="end" textLength="76.5" lengthAdjust="spacingAndGlyphs" >25⇌19</text>
<text x="1358.3" y="847.0" font-size="25" fill="#111" text-anchor="end" textLength="162.8" lengthAdjust="spacingAndGlyphs" >Pharmacology</text>
<text x="1368.0" y="847.0" font-size="25" fill="#ababab" textLength="76.5" lengthAdjust="spacingAndGlyphs" >20⇌32</text>
<text x="1358.3" y="868.1" font-size="25" fill="#111" text-anchor="end" textLength="130.3" lengthAdjust="spacingAndGlyphs" >Accounting</text>
<text x="1368.0" y="868.1" font-size="25" fill="#ababab" textLength="76.5" lengthAdjust="spacingAndGlyphs" >21⇌91</text>
<text x="1367.5" y="889.2" font-size="25" fill="#111" textLength="176.9" lengthAdjust="spacingAndGlyphs" >Ophthalmology</text>
<text x="1357.5" y="889.2" font-size="25" fill="#d2d2d2" text-anchor="end" textLength="76.5" lengthAdjust="spacingAndGlyphs" >54⇌21</text>
<text x="1358.3" y="910.3" font-size="25" fill="#111" text-anchor="end" textLength="120.8" lengthAdjust="spacingAndGlyphs" >Commerce</text>
<text x="1368.0" y="910.3" font-size="25" fill="#ababab" textLength="89.2" lengthAdjust="spacingAndGlyphs" >22⇌126</text>
<text x="1358.3" y="931.5" font-size="25" fill="#111" text-anchor="end" textLength="124.8" lengthAdjust="spacingAndGlyphs" >Visual-arts</text>
<text x="1368.0" y="931.5" font-size="25" fill="#ababab" textLength="76.5" lengthAdjust="spacingAndGlyphs" >23⇌90</text>
<text x="1367.5" y="952.6" font-size="25" fill="#111" textLength="74.4" lengthAdjust="spacingAndGlyphs" >Optics</text>
<text x="1357.5" y="952.6" font-size="25" fill="#d2d2d2" text-anchor="end" textLength="76.5" lengthAdjust="spacingAndGlyphs" >54⇌23</text>
<text x="1363.0" y="995.0" font-size="26" fill="#7c7c7c" text-anchor="middle" textLength="142.5" lengthAdjust="spacingAndGlyphs" >49.7%—50.3%</text>
</svg>
</body></html>
